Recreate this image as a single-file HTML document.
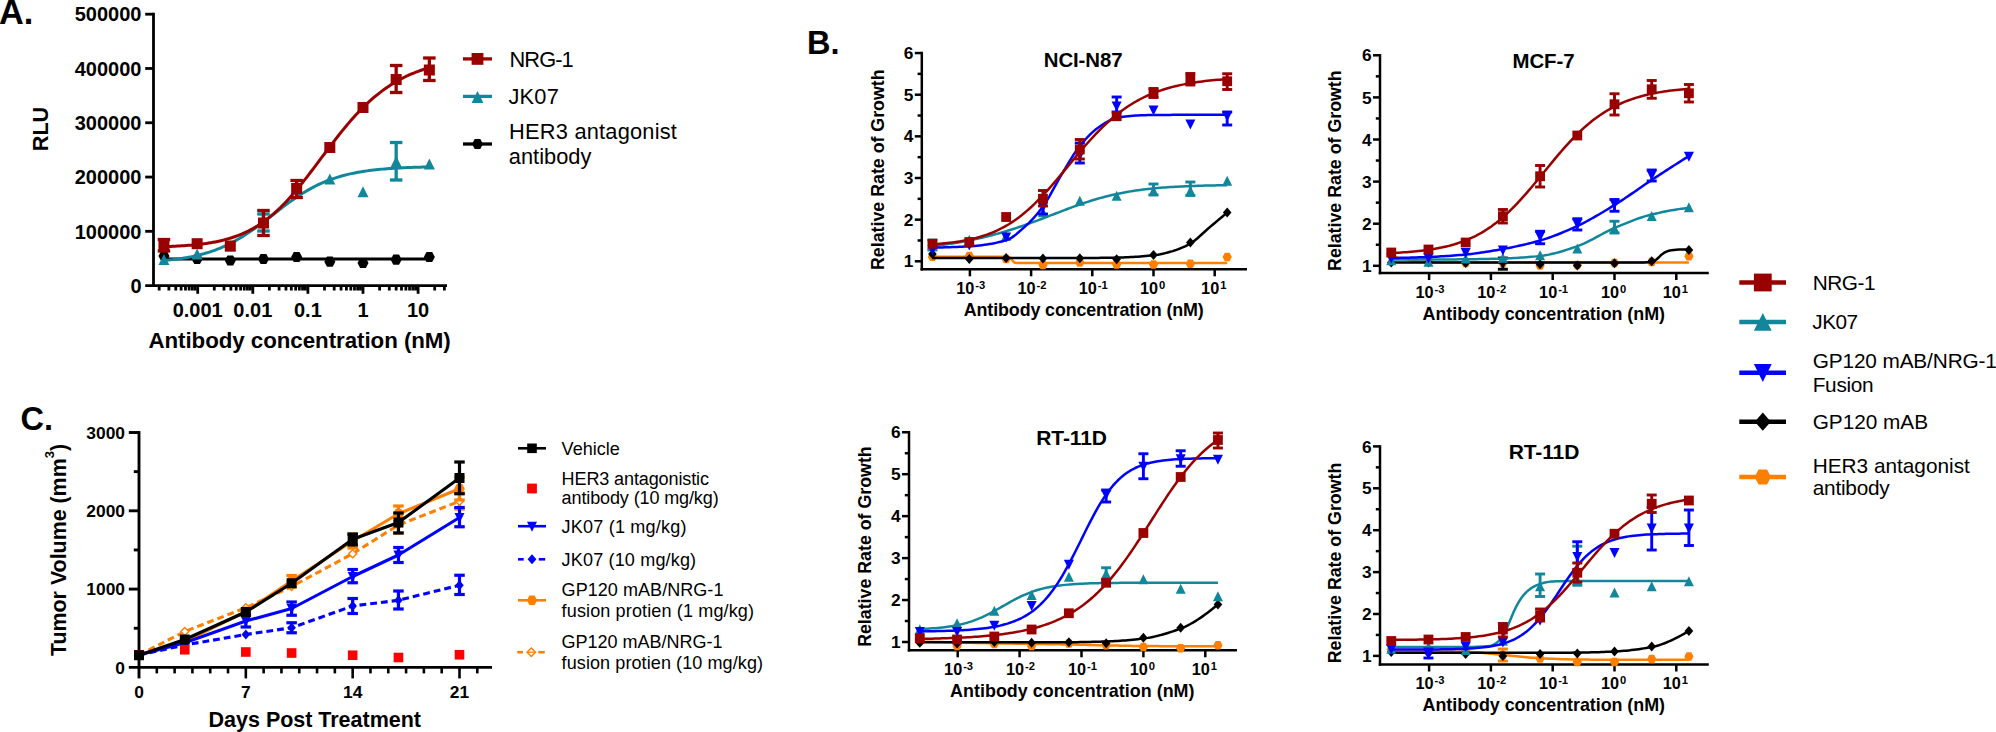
<!DOCTYPE html>
<html><head><meta charset="utf-8"><title>Figure</title>
<style>html,body{margin:0;padding:0;background:#fff;}svg{display:block;}text{font-family:"Liberation Sans",Arial,Helvetica,sans-serif;fill:#000;}</style>
</head><body>
<svg width="1996" height="732" viewBox="0 0 1996 732">
<rect width="1996" height="732" fill="#ffffff"/>
<line x1="153.5" y1="12.8" x2="153.5" y2="287" stroke="#000000" stroke-width="2.8" stroke-linecap="butt"/>
<line x1="145.2" y1="285.6" x2="447" y2="285.6" stroke="#000000" stroke-width="2.8" stroke-linecap="butt"/>
<line x1="145.2" y1="231.32" x2="153.5" y2="231.32" stroke="#000000" stroke-width="2.8" stroke-linecap="butt"/>
<line x1="145.2" y1="177.04" x2="153.5" y2="177.04" stroke="#000000" stroke-width="2.8" stroke-linecap="butt"/>
<line x1="145.2" y1="122.76" x2="153.5" y2="122.76" stroke="#000000" stroke-width="2.8" stroke-linecap="butt"/>
<line x1="145.2" y1="68.48" x2="153.5" y2="68.48" stroke="#000000" stroke-width="2.8" stroke-linecap="butt"/>
<line x1="145.2" y1="14.2" x2="153.5" y2="14.2" stroke="#000000" stroke-width="2.8" stroke-linecap="butt"/>
<text x="141.5" y="292.8" font-size="20" font-weight="bold" text-anchor="end">0</text>
<text x="141.5" y="238.52" font-size="20" font-weight="bold" text-anchor="end">100000</text>
<text x="141.5" y="184.24" font-size="20" font-weight="bold" text-anchor="end">200000</text>
<text x="141.5" y="129.96" font-size="20" font-weight="bold" text-anchor="end">300000</text>
<text x="141.5" y="75.68" font-size="20" font-weight="bold" text-anchor="end">400000</text>
<text x="141.5" y="21.4" font-size="20" font-weight="bold" text-anchor="end">500000</text>
<line x1="159.19" y1="285.6" x2="159.19" y2="290.5" stroke="#000000" stroke-width="2.8" stroke-linecap="butt"/>
<line x1="168.89" y1="285.6" x2="168.89" y2="290.5" stroke="#000000" stroke-width="2.8" stroke-linecap="butt"/>
<line x1="175.77" y1="285.6" x2="175.77" y2="290.5" stroke="#000000" stroke-width="2.8" stroke-linecap="butt"/>
<line x1="181.11" y1="285.6" x2="181.11" y2="290.5" stroke="#000000" stroke-width="2.8" stroke-linecap="butt"/>
<line x1="185.48" y1="285.6" x2="185.48" y2="290.5" stroke="#000000" stroke-width="2.8" stroke-linecap="butt"/>
<line x1="189.16" y1="285.6" x2="189.16" y2="290.5" stroke="#000000" stroke-width="2.8" stroke-linecap="butt"/>
<line x1="192.36" y1="285.6" x2="192.36" y2="290.5" stroke="#000000" stroke-width="2.8" stroke-linecap="butt"/>
<line x1="195.18" y1="285.6" x2="195.18" y2="290.5" stroke="#000000" stroke-width="2.8" stroke-linecap="butt"/>
<line x1="197.7" y1="285.6" x2="197.7" y2="293.8" stroke="#000000" stroke-width="2.8" stroke-linecap="butt"/>
<line x1="214.29" y1="285.6" x2="214.29" y2="290.5" stroke="#000000" stroke-width="2.8" stroke-linecap="butt"/>
<line x1="223.99" y1="285.6" x2="223.99" y2="290.5" stroke="#000000" stroke-width="2.8" stroke-linecap="butt"/>
<line x1="230.87" y1="285.6" x2="230.87" y2="290.5" stroke="#000000" stroke-width="2.8" stroke-linecap="butt"/>
<line x1="236.21" y1="285.6" x2="236.21" y2="290.5" stroke="#000000" stroke-width="2.8" stroke-linecap="butt"/>
<line x1="240.58" y1="285.6" x2="240.58" y2="290.5" stroke="#000000" stroke-width="2.8" stroke-linecap="butt"/>
<line x1="244.26" y1="285.6" x2="244.26" y2="290.5" stroke="#000000" stroke-width="2.8" stroke-linecap="butt"/>
<line x1="247.46" y1="285.6" x2="247.46" y2="290.5" stroke="#000000" stroke-width="2.8" stroke-linecap="butt"/>
<line x1="250.28" y1="285.6" x2="250.28" y2="290.5" stroke="#000000" stroke-width="2.8" stroke-linecap="butt"/>
<line x1="252.8" y1="285.6" x2="252.8" y2="293.8" stroke="#000000" stroke-width="2.8" stroke-linecap="butt"/>
<line x1="269.39" y1="285.6" x2="269.39" y2="290.5" stroke="#000000" stroke-width="2.8" stroke-linecap="butt"/>
<line x1="279.09" y1="285.6" x2="279.09" y2="290.5" stroke="#000000" stroke-width="2.8" stroke-linecap="butt"/>
<line x1="285.97" y1="285.6" x2="285.97" y2="290.5" stroke="#000000" stroke-width="2.8" stroke-linecap="butt"/>
<line x1="291.31" y1="285.6" x2="291.31" y2="290.5" stroke="#000000" stroke-width="2.8" stroke-linecap="butt"/>
<line x1="295.68" y1="285.6" x2="295.68" y2="290.5" stroke="#000000" stroke-width="2.8" stroke-linecap="butt"/>
<line x1="299.36" y1="285.6" x2="299.36" y2="290.5" stroke="#000000" stroke-width="2.8" stroke-linecap="butt"/>
<line x1="302.56" y1="285.6" x2="302.56" y2="290.5" stroke="#000000" stroke-width="2.8" stroke-linecap="butt"/>
<line x1="305.38" y1="285.6" x2="305.38" y2="290.5" stroke="#000000" stroke-width="2.8" stroke-linecap="butt"/>
<line x1="307.9" y1="285.6" x2="307.9" y2="293.8" stroke="#000000" stroke-width="2.8" stroke-linecap="butt"/>
<line x1="324.49" y1="285.6" x2="324.49" y2="290.5" stroke="#000000" stroke-width="2.8" stroke-linecap="butt"/>
<line x1="334.19" y1="285.6" x2="334.19" y2="290.5" stroke="#000000" stroke-width="2.8" stroke-linecap="butt"/>
<line x1="341.07" y1="285.6" x2="341.07" y2="290.5" stroke="#000000" stroke-width="2.8" stroke-linecap="butt"/>
<line x1="346.41" y1="285.6" x2="346.41" y2="290.5" stroke="#000000" stroke-width="2.8" stroke-linecap="butt"/>
<line x1="350.78" y1="285.6" x2="350.78" y2="290.5" stroke="#000000" stroke-width="2.8" stroke-linecap="butt"/>
<line x1="354.46" y1="285.6" x2="354.46" y2="290.5" stroke="#000000" stroke-width="2.8" stroke-linecap="butt"/>
<line x1="357.66" y1="285.6" x2="357.66" y2="290.5" stroke="#000000" stroke-width="2.8" stroke-linecap="butt"/>
<line x1="360.48" y1="285.6" x2="360.48" y2="290.5" stroke="#000000" stroke-width="2.8" stroke-linecap="butt"/>
<line x1="363" y1="285.6" x2="363" y2="293.8" stroke="#000000" stroke-width="2.8" stroke-linecap="butt"/>
<line x1="379.59" y1="285.6" x2="379.59" y2="290.5" stroke="#000000" stroke-width="2.8" stroke-linecap="butt"/>
<line x1="389.29" y1="285.6" x2="389.29" y2="290.5" stroke="#000000" stroke-width="2.8" stroke-linecap="butt"/>
<line x1="396.17" y1="285.6" x2="396.17" y2="290.5" stroke="#000000" stroke-width="2.8" stroke-linecap="butt"/>
<line x1="401.51" y1="285.6" x2="401.51" y2="290.5" stroke="#000000" stroke-width="2.8" stroke-linecap="butt"/>
<line x1="405.88" y1="285.6" x2="405.88" y2="290.5" stroke="#000000" stroke-width="2.8" stroke-linecap="butt"/>
<line x1="409.56" y1="285.6" x2="409.56" y2="290.5" stroke="#000000" stroke-width="2.8" stroke-linecap="butt"/>
<line x1="412.76" y1="285.6" x2="412.76" y2="290.5" stroke="#000000" stroke-width="2.8" stroke-linecap="butt"/>
<line x1="415.58" y1="285.6" x2="415.58" y2="290.5" stroke="#000000" stroke-width="2.8" stroke-linecap="butt"/>
<line x1="418.1" y1="285.6" x2="418.1" y2="293.8" stroke="#000000" stroke-width="2.8" stroke-linecap="butt"/>
<line x1="434.69" y1="285.6" x2="434.69" y2="290.5" stroke="#000000" stroke-width="2.8" stroke-linecap="butt"/>
<line x1="444.39" y1="285.6" x2="444.39" y2="290.5" stroke="#000000" stroke-width="2.8" stroke-linecap="butt"/>
<text x="197.7" y="316.8" font-size="20" font-weight="bold" text-anchor="middle">0.001</text>
<text x="252.8" y="316.8" font-size="20" font-weight="bold" text-anchor="middle">0.01</text>
<text x="307.9" y="316.8" font-size="20" font-weight="bold" text-anchor="middle">0.1</text>
<text x="363" y="316.8" font-size="20" font-weight="bold" text-anchor="middle">1</text>
<text x="418.1" y="316.8" font-size="20" font-weight="bold" text-anchor="middle">10</text>
<text x="148.4" y="348" font-size="22.3" font-weight="bold" textLength="302.41" lengthAdjust="spacing">Antibody concentration (nM)</text>
<text x="47.8" y="129" font-size="21.6" font-weight="bold" text-anchor="middle" transform="rotate(-90 47.8 129)">RLU</text>
<text x="-1" y="24" font-size="34.3" font-weight="bold" text-anchor="start">A.</text>
<line x1="163.96" y1="259" x2="429.35" y2="259" stroke="#000000" stroke-width="3" stroke-linecap="butt"/>
<polygon points="423.84,257 426.48,251.9 432.21,251.9 434.86,257 432.21,262.1 426.48,262.1" fill="#000000"/>
<polygon points="390.66,259.7 393.31,254.6 399.04,254.6 401.69,259.7 399.04,264.8 393.31,264.8" fill="#000000"/>
<polygon points="357.49,263 360.13,257.9 365.87,257.9 368.51,263 365.87,268.1 360.13,268.1" fill="#000000"/>
<polygon points="324.31,261.7 326.96,256.6 332.69,256.6 335.34,261.7 332.69,266.8 326.96,266.8" fill="#000000"/>
<polygon points="291.14,257 293.79,251.9 299.52,251.9 302.16,257 299.52,262.1 293.79,262.1" fill="#000000"/>
<polygon points="257.97,259 260.61,253.9 266.35,253.9 268.99,259 266.35,264.1 260.61,264.1" fill="#000000"/>
<polygon points="224.79,260.5 227.44,255.4 233.17,255.4 235.82,260.5 233.17,265.6 227.44,265.6" fill="#000000"/>
<polygon points="191.62,259 194.27,253.9 200,253.9 202.64,259 200,264.1 194.27,264.1" fill="#000000"/>
<polygon points="158.45,256 161.09,250.9 166.83,250.9 169.47,256 166.83,261.1 161.09,261.1" fill="#000000"/>
<path d="M163.96 260.55 L166.19 260.34 L168.42 260.12 L170.65 259.88 L172.88 259.62 L175.11 259.35 L177.34 259.05 L179.57 258.74 L181.8 258.41 L184.03 258.05 L186.26 257.68 L188.49 257.27 L190.72 256.85 L192.95 256.39 L195.18 255.91 L197.41 255.4 L199.64 254.85 L201.87 254.27 L204.1 253.66 L206.33 253.02 L208.56 252.33 L210.79 251.61 L213.02 250.85 L215.25 250.05 L217.48 249.2 L219.71 248.31 L221.94 247.38 L224.17 246.4 L226.4 245.38 L228.63 244.31 L230.86 243.19 L233.09 242.02 L235.32 240.81 L237.55 239.55 L239.78 238.25 L242.01 236.9 L244.24 235.5 L246.47 234.07 L248.7 232.59 L250.93 231.07 L253.17 229.52 L255.4 227.93 L257.63 226.32 L259.86 224.67 L262.09 223.01 L264.32 221.32 L266.55 219.61 L268.78 217.9 L271.01 216.18 L273.24 214.45 L275.47 212.73 L277.7 211.01 L279.93 209.3 L282.16 207.6 L284.39 205.92 L286.62 204.27 L288.85 202.64 L291.08 201.04 L293.31 199.47 L295.54 197.93 L297.77 196.44 L300 194.98 L302.23 193.56 L304.46 192.19 L306.69 190.87 L308.92 189.58 L311.15 188.35 L313.38 187.16 L315.61 186.02 L317.84 184.93 L320.07 183.88 L322.3 182.88 L324.53 181.92 L326.76 181.01 L328.99 180.15 L331.22 179.33 L333.45 178.54 L335.68 177.8 L337.91 177.1 L340.14 176.44 L342.37 175.81 L344.6 175.21 L346.83 174.65 L349.06 174.13 L351.29 173.63 L353.52 173.16 L355.75 172.72 L357.98 172.31 L360.21 171.92 L362.44 171.55 L364.67 171.21 L366.9 170.89 L369.13 170.58 L371.36 170.3 L373.59 170.04 L375.82 169.79 L378.05 169.56 L380.28 169.34 L382.51 169.13 L384.74 168.94 L386.97 168.77 L389.2 168.6 L391.43 168.44 L393.66 168.3 L395.89 168.16 L398.12 168.04 L400.36 167.92 L402.59 167.81 L404.82 167.7 L407.05 167.61 L409.28 167.52 L411.51 167.43 L413.74 167.35 L415.97 167.28 L418.2 167.21 L420.43 167.15 L422.66 167.09 L424.89 167.03 L427.12 166.98 L429.35 166.94" fill="none" stroke="#12869b" stroke-width="3" stroke-linejoin="round"/>
<line x1="396.17" y1="142.5" x2="396.17" y2="180" stroke="#12869b" stroke-width="3.3" stroke-linecap="butt"/>
<line x1="389.92" y1="142.5" x2="402.42" y2="142.5" stroke="#12869b" stroke-width="3.3" stroke-linecap="butt"/>
<line x1="389.92" y1="180" x2="402.42" y2="180" stroke="#12869b" stroke-width="3.3" stroke-linecap="butt"/>
<line x1="263.48" y1="214" x2="263.48" y2="231" stroke="#12869b" stroke-width="3.3" stroke-linecap="butt"/>
<line x1="257.23" y1="214" x2="269.73" y2="214" stroke="#12869b" stroke-width="3.3" stroke-linecap="butt"/>
<line x1="257.23" y1="231" x2="269.73" y2="231" stroke="#12869b" stroke-width="3.3" stroke-linecap="butt"/>
<polygon points="423.85,169.5 434.85,169.5 429.35,158.5" fill="#12869b"/>
<polygon points="390.67,167 401.67,167 396.17,156" fill="#12869b"/>
<polygon points="357.5,197.2 368.5,197.2 363,186.2" fill="#12869b"/>
<polygon points="324.33,184.5 335.33,184.5 329.83,173.5" fill="#12869b"/>
<polygon points="291.15,194.5 302.15,194.5 296.65,183.5" fill="#12869b"/>
<polygon points="257.98,225.5 268.98,225.5 263.48,214.5" fill="#12869b"/>
<polygon points="224.81,251.5 235.81,251.5 230.31,240.5" fill="#12869b"/>
<polygon points="191.63,259.5 202.63,259.5 197.13,248.5" fill="#12869b"/>
<polygon points="158.46,265 169.46,265 163.96,254" fill="#12869b"/>
<path d="M163.96 246.66 L166.19 246.58 L168.42 246.5 L170.65 246.41 L172.88 246.31 L175.11 246.2 L177.34 246.09 L179.57 245.96 L181.8 245.83 L184.03 245.68 L186.26 245.52 L188.49 245.35 L190.72 245.17 L192.95 244.97 L195.18 244.75 L197.41 244.52 L199.64 244.27 L201.87 244 L204.1 243.71 L206.33 243.4 L208.56 243.06 L210.79 242.7 L213.02 242.31 L215.25 241.9 L217.48 241.45 L219.71 240.97 L221.94 240.45 L224.17 239.9 L226.4 239.31 L228.63 238.68 L230.86 238.01 L233.09 237.29 L235.32 236.52 L237.55 235.71 L239.78 234.84 L242.01 233.92 L244.24 232.94 L246.47 231.9 L248.7 230.8 L250.93 229.63 L253.17 228.4 L255.4 227.11 L257.63 225.74 L259.86 224.3 L262.09 222.79 L264.32 221.2 L266.55 219.54 L268.78 217.81 L271.01 215.99 L273.24 214.1 L275.47 212.13 L277.7 210.09 L279.93 207.97 L282.16 205.77 L284.39 203.5 L286.62 201.16 L288.85 198.75 L291.08 196.27 L293.31 193.73 L295.54 191.13 L297.77 188.46 L300 185.75 L302.23 182.99 L304.46 180.18 L306.69 177.33 L308.92 174.45 L311.15 171.53 L313.38 168.6 L315.61 165.64 L317.84 162.67 L320.07 159.69 L322.3 156.72 L324.53 153.74 L326.76 150.77 L328.99 147.82 L331.22 144.89 L333.45 141.97 L335.68 139.09 L337.91 136.25 L340.14 133.43 L342.37 130.67 L344.6 127.94 L346.83 125.27 L349.06 122.64 L351.29 120.07 L353.52 117.56 L355.75 115.1 L357.98 112.71 L360.21 110.38 L362.44 108.11 L364.67 105.91 L366.9 103.77 L369.13 101.69 L371.36 99.69 L373.59 97.74 L375.82 95.87 L378.05 94.05 L380.28 92.31 L382.51 90.62 L384.74 89 L386.97 87.44 L389.2 85.94 L391.43 84.5 L393.66 83.11 L395.89 81.79 L398.12 80.51 L400.36 79.3 L402.59 78.13 L404.82 77.01 L407.05 75.95 L409.28 74.93 L411.51 73.95 L413.74 73.02 L415.97 72.13 L418.2 71.28 L420.43 70.48 L422.66 69.71 L424.89 68.97 L427.12 68.27 L429.35 67.61" fill="none" stroke="#990000" stroke-width="3" stroke-linejoin="round"/>
<line x1="429.35" y1="58" x2="429.35" y2="80.5" stroke="#990000" stroke-width="3.3" stroke-linecap="butt"/>
<line x1="423.1" y1="58" x2="435.6" y2="58" stroke="#990000" stroke-width="3.3" stroke-linecap="butt"/>
<line x1="423.1" y1="80.5" x2="435.6" y2="80.5" stroke="#990000" stroke-width="3.3" stroke-linecap="butt"/>
<line x1="396.17" y1="65.5" x2="396.17" y2="92.5" stroke="#990000" stroke-width="3.3" stroke-linecap="butt"/>
<line x1="389.92" y1="65.5" x2="402.42" y2="65.5" stroke="#990000" stroke-width="3.3" stroke-linecap="butt"/>
<line x1="389.92" y1="92.5" x2="402.42" y2="92.5" stroke="#990000" stroke-width="3.3" stroke-linecap="butt"/>
<line x1="263.48" y1="210.5" x2="263.48" y2="235.5" stroke="#990000" stroke-width="3.3" stroke-linecap="butt"/>
<line x1="257.23" y1="210.5" x2="269.73" y2="210.5" stroke="#990000" stroke-width="3.3" stroke-linecap="butt"/>
<line x1="257.23" y1="235.5" x2="269.73" y2="235.5" stroke="#990000" stroke-width="3.3" stroke-linecap="butt"/>
<line x1="296.65" y1="180.5" x2="296.65" y2="197.5" stroke="#990000" stroke-width="3.3" stroke-linecap="butt"/>
<line x1="290.4" y1="180.5" x2="302.9" y2="180.5" stroke="#990000" stroke-width="3.3" stroke-linecap="butt"/>
<line x1="290.4" y1="197.5" x2="302.9" y2="197.5" stroke="#990000" stroke-width="3.3" stroke-linecap="butt"/>
<line x1="163.96" y1="239.5" x2="163.96" y2="251" stroke="#990000" stroke-width="3.3" stroke-linecap="butt"/>
<line x1="157.71" y1="239.5" x2="170.21" y2="239.5" stroke="#990000" stroke-width="3.3" stroke-linecap="butt"/>
<line x1="157.71" y1="251" x2="170.21" y2="251" stroke="#990000" stroke-width="3.3" stroke-linecap="butt"/>
<rect x="423.85" y="64.5" width="11" height="11" fill="#990000"/>
<rect x="390.67" y="74" width="11" height="11" fill="#990000"/>
<rect x="357.5" y="102" width="11" height="11" fill="#990000"/>
<rect x="324.33" y="142" width="11" height="11" fill="#990000"/>
<rect x="291.15" y="183" width="11" height="11" fill="#990000"/>
<rect x="257.98" y="217.5" width="11" height="11" fill="#990000"/>
<rect x="224.81" y="240.5" width="11" height="11" fill="#990000"/>
<rect x="191.63" y="238.2" width="11" height="11" fill="#990000"/>
<rect x="158.46" y="239.5" width="11" height="11" fill="#990000"/>
<line x1="463" y1="58.9" x2="492" y2="58.9" stroke="#990000" stroke-width="3.3" stroke-linecap="butt"/>
<rect x="471.6" y="53" width="11.8" height="11.8" fill="#990000"/>
<line x1="463" y1="96.4" x2="492" y2="96.4" stroke="#12869b" stroke-width="3.3" stroke-linecap="butt"/>
<polygon points="471.6,102.9 483.4,102.9 477.5,91.1" fill="#12869b"/>
<line x1="463" y1="144" x2="492" y2="144" stroke="#000000" stroke-width="3.3" stroke-linecap="butt"/>
<polygon points="472.09,144 474.69,139 480.31,139 482.91,144 480.31,149 474.69,149" fill="#000000"/>
<text x="509.5" y="67.1" font-size="21.8" textLength="64.23" lengthAdjust="spacing">NRG-1</text>
<text x="508.5" y="104.1" font-size="21.8" textLength="50.29" lengthAdjust="spacing">JK07</text>
<text x="509.1" y="139" font-size="21.8" textLength="167.81" lengthAdjust="spacing">HER3 antagonist</text>
<text x="508.8" y="164.1" font-size="21.8" textLength="82.62" lengthAdjust="spacing">antibody</text>
<line x1="139" y1="431.05" x2="139" y2="678.4" stroke="#000000" stroke-width="2.9" stroke-linecap="butt"/>
<line x1="128.8" y1="667.4" x2="492" y2="667.4" stroke="#000000" stroke-width="2.9" stroke-linecap="butt"/>
<line x1="133.8" y1="628.25" x2="139" y2="628.25" stroke="#000000" stroke-width="2.9" stroke-linecap="butt"/>
<line x1="128.8" y1="589.1" x2="139" y2="589.1" stroke="#000000" stroke-width="2.9" stroke-linecap="butt"/>
<line x1="133.8" y1="549.95" x2="139" y2="549.95" stroke="#000000" stroke-width="2.9" stroke-linecap="butt"/>
<line x1="128.8" y1="510.8" x2="139" y2="510.8" stroke="#000000" stroke-width="2.9" stroke-linecap="butt"/>
<line x1="133.8" y1="471.65" x2="139" y2="471.65" stroke="#000000" stroke-width="2.9" stroke-linecap="butt"/>
<line x1="128.8" y1="432.5" x2="139" y2="432.5" stroke="#000000" stroke-width="2.9" stroke-linecap="butt"/>
<text x="125" y="673.6" font-size="17.4" font-weight="bold" text-anchor="end">0</text>
<text x="125" y="595.3" font-size="17.4" font-weight="bold" text-anchor="end">1000</text>
<text x="125" y="517" font-size="17.4" font-weight="bold" text-anchor="end">2000</text>
<text x="125" y="438.7" font-size="17.4" font-weight="bold" text-anchor="end">3000</text>
<line x1="156.81" y1="667.4" x2="156.81" y2="673.4" stroke="#000000" stroke-width="2.6" stroke-linecap="butt"/>
<line x1="174.61" y1="667.4" x2="174.61" y2="673.4" stroke="#000000" stroke-width="2.6" stroke-linecap="butt"/>
<line x1="192.42" y1="667.4" x2="192.42" y2="673.4" stroke="#000000" stroke-width="2.6" stroke-linecap="butt"/>
<line x1="210.22" y1="667.4" x2="210.22" y2="673.4" stroke="#000000" stroke-width="2.6" stroke-linecap="butt"/>
<line x1="228.03" y1="667.4" x2="228.03" y2="673.4" stroke="#000000" stroke-width="2.6" stroke-linecap="butt"/>
<line x1="245.83" y1="667.4" x2="245.83" y2="678.4" stroke="#000000" stroke-width="2.6" stroke-linecap="butt"/>
<line x1="263.64" y1="667.4" x2="263.64" y2="673.4" stroke="#000000" stroke-width="2.6" stroke-linecap="butt"/>
<line x1="281.45" y1="667.4" x2="281.45" y2="673.4" stroke="#000000" stroke-width="2.6" stroke-linecap="butt"/>
<line x1="299.25" y1="667.4" x2="299.25" y2="673.4" stroke="#000000" stroke-width="2.6" stroke-linecap="butt"/>
<line x1="317.06" y1="667.4" x2="317.06" y2="673.4" stroke="#000000" stroke-width="2.6" stroke-linecap="butt"/>
<line x1="334.86" y1="667.4" x2="334.86" y2="673.4" stroke="#000000" stroke-width="2.6" stroke-linecap="butt"/>
<line x1="352.67" y1="667.4" x2="352.67" y2="678.4" stroke="#000000" stroke-width="2.6" stroke-linecap="butt"/>
<line x1="370.47" y1="667.4" x2="370.47" y2="673.4" stroke="#000000" stroke-width="2.6" stroke-linecap="butt"/>
<line x1="388.28" y1="667.4" x2="388.28" y2="673.4" stroke="#000000" stroke-width="2.6" stroke-linecap="butt"/>
<line x1="406.09" y1="667.4" x2="406.09" y2="673.4" stroke="#000000" stroke-width="2.6" stroke-linecap="butt"/>
<line x1="423.89" y1="667.4" x2="423.89" y2="673.4" stroke="#000000" stroke-width="2.6" stroke-linecap="butt"/>
<line x1="441.7" y1="667.4" x2="441.7" y2="673.4" stroke="#000000" stroke-width="2.6" stroke-linecap="butt"/>
<line x1="459.5" y1="667.4" x2="459.5" y2="678.4" stroke="#000000" stroke-width="2.6" stroke-linecap="butt"/>
<line x1="477.31" y1="667.4" x2="477.31" y2="673.4" stroke="#000000" stroke-width="2.6" stroke-linecap="butt"/>
<text x="139" y="698.3" font-size="17.4" font-weight="bold" text-anchor="middle">0</text>
<text x="245.83" y="698.3" font-size="17.4" font-weight="bold" text-anchor="middle">7</text>
<text x="352.67" y="698.3" font-size="17.4" font-weight="bold" text-anchor="middle">14</text>
<text x="459.5" y="698.3" font-size="17.4" font-weight="bold" text-anchor="middle">21</text>
<text x="208.6" y="726.6" font-size="21.5" font-weight="bold" textLength="212.35" lengthAdjust="spacing">Days Post Treatment</text>
<text x="65.5" y="550" font-size="21.4" font-weight="bold" text-anchor="middle" transform="rotate(-90 65.5 550)">Tumor Volume (mm<tspan font-size="13" dy="-11.5">3</tspan><tspan dy="11.5">)</tspan></text>
<text x="20.5" y="429.5" font-size="32.5" font-weight="bold" text-anchor="start">C.</text>
<path d="M139 655 L184.79 631.5 L245.83 607.75 L291.62 586.5 L352.67 553.75 L398.45 525 L459.5 501.25" fill="none" stroke="#ff8000" stroke-width="3.1" stroke-linejoin="round" stroke-dasharray="6.8 4"/>
<line x1="398.45" y1="517" x2="398.45" y2="533" stroke="#ff8000" stroke-width="3.2" stroke-linecap="butt"/>
<line x1="393.2" y1="517" x2="403.7" y2="517" stroke="#ff8000" stroke-width="3.2" stroke-linecap="butt"/>
<line x1="393.2" y1="533" x2="403.7" y2="533" stroke="#ff8000" stroke-width="3.2" stroke-linecap="butt"/>
<line x1="459.5" y1="493" x2="459.5" y2="509" stroke="#ff8000" stroke-width="3.2" stroke-linecap="butt"/>
<line x1="454.25" y1="493" x2="464.75" y2="493" stroke="#ff8000" stroke-width="3.2" stroke-linecap="butt"/>
<line x1="454.25" y1="509" x2="464.75" y2="509" stroke="#ff8000" stroke-width="3.2" stroke-linecap="butt"/>
<polygon points="134.95,655 139,650.95 143.05,655 139,659.05" fill="#ffffff" stroke="#ff8000" stroke-width="1.4"/>
<polygon points="180.74,631.5 184.79,627.45 188.84,631.5 184.79,635.55" fill="#ffffff" stroke="#ff8000" stroke-width="1.4"/>
<polygon points="241.78,607.75 245.83,603.7 249.88,607.75 245.83,611.8" fill="#ffffff" stroke="#ff8000" stroke-width="1.4"/>
<polygon points="287.57,586.5 291.62,582.45 295.67,586.5 291.62,590.55" fill="#ffffff" stroke="#ff8000" stroke-width="1.4"/>
<polygon points="348.62,553.75 352.67,549.7 356.72,553.75 352.67,557.8" fill="#ffffff" stroke="#ff8000" stroke-width="1.4"/>
<polygon points="394.4,525 398.45,520.95 402.5,525 398.45,529.05" fill="#ffffff" stroke="#ff8000" stroke-width="1.4"/>
<polygon points="455.45,501.25 459.5,497.2 463.55,501.25 459.5,505.3" fill="#ffffff" stroke="#ff8000" stroke-width="1.4"/>
<path d="M139 655 L184.79 641.5 L245.83 611.5 L291.62 581 L352.67 541 L398.45 513.75 L459.5 488.75" fill="none" stroke="#ff8000" stroke-width="3.1" stroke-linejoin="round"/>
<line x1="291.62" y1="575.5" x2="291.62" y2="587" stroke="#ff8000" stroke-width="3.2" stroke-linecap="butt"/>
<line x1="286.37" y1="575.5" x2="296.87" y2="575.5" stroke="#ff8000" stroke-width="3.2" stroke-linecap="butt"/>
<line x1="286.37" y1="587" x2="296.87" y2="587" stroke="#ff8000" stroke-width="3.2" stroke-linecap="butt"/>
<line x1="398.45" y1="506" x2="398.45" y2="521.5" stroke="#ff8000" stroke-width="3.2" stroke-linecap="butt"/>
<line x1="393.2" y1="506" x2="403.7" y2="506" stroke="#ff8000" stroke-width="3.2" stroke-linecap="butt"/>
<line x1="393.2" y1="521.5" x2="403.7" y2="521.5" stroke="#ff8000" stroke-width="3.2" stroke-linecap="butt"/>
<line x1="459.5" y1="477" x2="459.5" y2="500" stroke="#ff8000" stroke-width="3.2" stroke-linecap="butt"/>
<line x1="454.25" y1="477" x2="464.75" y2="477" stroke="#ff8000" stroke-width="3.2" stroke-linecap="butt"/>
<line x1="454.25" y1="500" x2="464.75" y2="500" stroke="#ff8000" stroke-width="3.2" stroke-linecap="butt"/>
<line x1="352.67" y1="534" x2="352.67" y2="548" stroke="#ff8000" stroke-width="3.2" stroke-linecap="butt"/>
<line x1="347.42" y1="534" x2="357.92" y2="534" stroke="#ff8000" stroke-width="3.2" stroke-linecap="butt"/>
<line x1="347.42" y1="548" x2="357.92" y2="548" stroke="#ff8000" stroke-width="3.2" stroke-linecap="butt"/>
<polygon points="133.7,655 136.24,650.1 141.76,650.1 144.3,655 141.76,659.9 136.24,659.9" fill="#ff8000"/>
<polygon points="179.49,641.5 182.03,636.6 187.54,636.6 190.09,641.5 187.54,646.4 182.03,646.4" fill="#ff8000"/>
<polygon points="240.53,611.5 243.08,606.6 248.59,606.6 251.13,611.5 248.59,616.4 243.08,616.4" fill="#ff8000"/>
<polygon points="286.32,581 288.86,576.1 294.38,576.1 296.92,581 294.38,585.9 288.86,585.9" fill="#ff8000"/>
<polygon points="347.37,541 349.91,536.1 355.42,536.1 357.97,541 355.42,545.9 349.91,545.9" fill="#ff8000"/>
<polygon points="393.15,513.75 395.7,508.85 401.21,508.85 403.75,513.75 401.21,518.65 395.7,518.65" fill="#ff8000"/>
<polygon points="454.2,488.75 456.75,483.85 462.26,483.85 464.8,488.75 462.26,493.65 456.75,493.65" fill="#ff8000"/>
<path d="M139 655 L184.79 645 L245.83 634.5 L291.62 627.75 L352.67 606 L398.45 600.25 L459.5 585.25" fill="none" stroke="#0000ff" stroke-width="3.1" stroke-linejoin="round" stroke-dasharray="6.8 4"/>
<line x1="291.62" y1="622.75" x2="291.62" y2="632.75" stroke="#0000ff" stroke-width="3.2" stroke-linecap="butt"/>
<line x1="286.37" y1="622.75" x2="296.87" y2="622.75" stroke="#0000ff" stroke-width="3.2" stroke-linecap="butt"/>
<line x1="286.37" y1="632.75" x2="296.87" y2="632.75" stroke="#0000ff" stroke-width="3.2" stroke-linecap="butt"/>
<line x1="352.67" y1="598.5" x2="352.67" y2="613.5" stroke="#0000ff" stroke-width="3.2" stroke-linecap="butt"/>
<line x1="347.42" y1="598.5" x2="357.92" y2="598.5" stroke="#0000ff" stroke-width="3.2" stroke-linecap="butt"/>
<line x1="347.42" y1="613.5" x2="357.92" y2="613.5" stroke="#0000ff" stroke-width="3.2" stroke-linecap="butt"/>
<line x1="398.45" y1="591" x2="398.45" y2="609" stroke="#0000ff" stroke-width="3.2" stroke-linecap="butt"/>
<line x1="393.2" y1="591" x2="403.7" y2="591" stroke="#0000ff" stroke-width="3.2" stroke-linecap="butt"/>
<line x1="393.2" y1="609" x2="403.7" y2="609" stroke="#0000ff" stroke-width="3.2" stroke-linecap="butt"/>
<line x1="459.5" y1="575.25" x2="459.5" y2="594.5" stroke="#0000ff" stroke-width="3.2" stroke-linecap="butt"/>
<line x1="454.25" y1="575.25" x2="464.75" y2="575.25" stroke="#0000ff" stroke-width="3.2" stroke-linecap="butt"/>
<line x1="454.25" y1="594.5" x2="464.75" y2="594.5" stroke="#0000ff" stroke-width="3.2" stroke-linecap="butt"/>
<polygon points="134.72,655 139,650.11 143.28,655 139,659.89" fill="#0000ff"/>
<polygon points="180.51,645 184.79,640.11 189.06,645 184.79,649.89" fill="#0000ff"/>
<polygon points="241.56,634.5 245.83,629.61 250.11,634.5 245.83,639.39" fill="#0000ff"/>
<polygon points="287.35,627.75 291.62,622.86 295.89,627.75 291.62,632.64" fill="#0000ff"/>
<polygon points="348.39,606 352.67,601.11 356.94,606 352.67,610.89" fill="#0000ff"/>
<polygon points="394.18,600.25 398.45,595.36 402.73,600.25 398.45,605.14" fill="#0000ff"/>
<polygon points="455.23,585.25 459.5,580.36 463.78,585.25 459.5,590.14" fill="#0000ff"/>
<path d="M139 655 L184.79 642.75 L245.83 621 L291.62 608.5 L352.67 576.5 L398.45 555 L459.5 517.5" fill="none" stroke="#0000ff" stroke-width="3.1" stroke-linejoin="round"/>
<line x1="245.83" y1="615" x2="245.83" y2="627" stroke="#0000ff" stroke-width="3.2" stroke-linecap="butt"/>
<line x1="240.58" y1="615" x2="251.08" y2="615" stroke="#0000ff" stroke-width="3.2" stroke-linecap="butt"/>
<line x1="240.58" y1="627" x2="251.08" y2="627" stroke="#0000ff" stroke-width="3.2" stroke-linecap="butt"/>
<line x1="291.62" y1="602" x2="291.62" y2="615.25" stroke="#0000ff" stroke-width="3.2" stroke-linecap="butt"/>
<line x1="286.37" y1="602" x2="296.87" y2="602" stroke="#0000ff" stroke-width="3.2" stroke-linecap="butt"/>
<line x1="286.37" y1="615.25" x2="296.87" y2="615.25" stroke="#0000ff" stroke-width="3.2" stroke-linecap="butt"/>
<line x1="352.67" y1="569.5" x2="352.67" y2="582.75" stroke="#0000ff" stroke-width="3.2" stroke-linecap="butt"/>
<line x1="347.42" y1="569.5" x2="357.92" y2="569.5" stroke="#0000ff" stroke-width="3.2" stroke-linecap="butt"/>
<line x1="347.42" y1="582.75" x2="357.92" y2="582.75" stroke="#0000ff" stroke-width="3.2" stroke-linecap="butt"/>
<line x1="398.45" y1="547.5" x2="398.45" y2="562.5" stroke="#0000ff" stroke-width="3.2" stroke-linecap="butt"/>
<line x1="393.2" y1="547.5" x2="403.7" y2="547.5" stroke="#0000ff" stroke-width="3.2" stroke-linecap="butt"/>
<line x1="393.2" y1="562.5" x2="403.7" y2="562.5" stroke="#0000ff" stroke-width="3.2" stroke-linecap="butt"/>
<line x1="459.5" y1="507.5" x2="459.5" y2="526.75" stroke="#0000ff" stroke-width="3.2" stroke-linecap="butt"/>
<line x1="454.25" y1="507.5" x2="464.75" y2="507.5" stroke="#0000ff" stroke-width="3.2" stroke-linecap="butt"/>
<line x1="454.25" y1="526.75" x2="464.75" y2="526.75" stroke="#0000ff" stroke-width="3.2" stroke-linecap="butt"/>
<polygon points="134,650.5 144,650.5 139,660.5" fill="#0000ff"/>
<polygon points="179.79,638.25 189.79,638.25 184.79,648.25" fill="#0000ff"/>
<polygon points="240.83,616.5 250.83,616.5 245.83,626.5" fill="#0000ff"/>
<polygon points="286.62,604 296.62,604 291.62,614" fill="#0000ff"/>
<polygon points="347.67,572 357.67,572 352.67,582" fill="#0000ff"/>
<polygon points="393.45,550.5 403.45,550.5 398.45,560.5" fill="#0000ff"/>
<polygon points="454.5,513 464.5,513 459.5,523" fill="#0000ff"/>
<rect x="134.2" y="650.2" width="9.6" height="9.6" fill="#ff0000"/>
<rect x="179.99" y="644.95" width="9.6" height="9.6" fill="#ff0000"/>
<rect x="241.03" y="647.2" width="9.6" height="9.6" fill="#ff0000"/>
<rect x="286.82" y="648.2" width="9.6" height="9.6" fill="#ff0000"/>
<rect x="347.87" y="650.45" width="9.6" height="9.6" fill="#ff0000"/>
<rect x="393.65" y="652.7" width="9.6" height="9.6" fill="#ff0000"/>
<rect x="454.7" y="649.95" width="9.6" height="9.6" fill="#ff0000"/>
<path d="M139 655.25 L184.79 639.5 L245.83 612 L291.62 583.25 L352.67 539.25 L398.45 522.5 L459.5 478" fill="none" stroke="#000000" stroke-width="3.1" stroke-linejoin="round"/>
<line x1="398.45" y1="513" x2="398.45" y2="533" stroke="#000000" stroke-width="3.2" stroke-linecap="butt"/>
<line x1="393.2" y1="513" x2="403.7" y2="513" stroke="#000000" stroke-width="3.2" stroke-linecap="butt"/>
<line x1="393.2" y1="533" x2="403.7" y2="533" stroke="#000000" stroke-width="3.2" stroke-linecap="butt"/>
<line x1="459.5" y1="462" x2="459.5" y2="493.75" stroke="#000000" stroke-width="3.2" stroke-linecap="butt"/>
<line x1="454.25" y1="462" x2="464.75" y2="462" stroke="#000000" stroke-width="3.2" stroke-linecap="butt"/>
<line x1="454.25" y1="493.75" x2="464.75" y2="493.75" stroke="#000000" stroke-width="3.2" stroke-linecap="butt"/>
<line x1="352.67" y1="534" x2="352.67" y2="545" stroke="#000000" stroke-width="3.2" stroke-linecap="butt"/>
<line x1="347.42" y1="534" x2="357.92" y2="534" stroke="#000000" stroke-width="3.2" stroke-linecap="butt"/>
<line x1="347.42" y1="545" x2="357.92" y2="545" stroke="#000000" stroke-width="3.2" stroke-linecap="butt"/>
<rect x="134" y="650.25" width="10" height="10" fill="#000000"/>
<rect x="179.79" y="634.5" width="10" height="10" fill="#000000"/>
<rect x="240.83" y="607" width="10" height="10" fill="#000000"/>
<rect x="286.62" y="578.25" width="10" height="10" fill="#000000"/>
<rect x="347.67" y="534.25" width="10" height="10" fill="#000000"/>
<rect x="393.45" y="517.5" width="10" height="10" fill="#000000"/>
<rect x="454.5" y="473" width="10" height="10" fill="#000000"/>
<line x1="518" y1="448.3" x2="546" y2="448.3" stroke="#000000" stroke-width="2.6" stroke-linecap="butt"/>
<rect x="527.2" y="443.5" width="9.6" height="9.6" fill="#000000"/>
<text x="561.6" y="455.1" font-size="18.05" textLength="58.2" lengthAdjust="spacing">Vehicle</text>
<rect x="527.1" y="483.6" width="9.8" height="9.8" fill="#ff0000"/>
<text x="561.6" y="484.8" font-size="18.05" textLength="147.34" lengthAdjust="spacing">HER3 antagonistic</text>
<text x="561.6" y="503.5" font-size="18.05" textLength="157.07" lengthAdjust="spacing">antibody (10 mg/kg)</text>
<line x1="518" y1="526.2" x2="546" y2="526.2" stroke="#0000ff" stroke-width="2.6" stroke-linecap="butt"/>
<polygon points="527,521.7 537,521.7 532,531.7" fill="#0000ff"/>
<text x="561.6" y="532.5" font-size="18.05" textLength="124.81" lengthAdjust="spacing">JK07 (1 mg/kg)</text>
<line x1="518" y1="559.3" x2="523.7" y2="559.3" stroke="#0000ff" stroke-width="2.6" stroke-linecap="butt"/>
<line x1="538.8" y1="559.3" x2="545.2" y2="559.3" stroke="#0000ff" stroke-width="2.6" stroke-linecap="butt"/>
<polygon points="527.59,559.3 532,554.25 536.41,559.3 532,564.35" fill="#0000ff"/>
<text x="561.6" y="565.8" font-size="18.05" textLength="134.53" lengthAdjust="spacing">JK07 (10 mg/kg)</text>
<line x1="518" y1="600.3" x2="546" y2="600.3" stroke="#ff8000" stroke-width="2.6" stroke-linecap="butt"/>
<polygon points="526.91,600.3 529.35,595.6 534.65,595.6 537.09,600.3 534.65,605 529.35,605" fill="#ff8000"/>
<text x="561.6" y="595.7" font-size="18.05" textLength="161.85" lengthAdjust="spacing">GP120 mAB/NRG-1</text>
<text x="561.6" y="616.7" font-size="18.05" textLength="192.4" lengthAdjust="spacing">fusion protien (1 mg/kg)</text>
<line x1="517.3" y1="652.2" x2="523" y2="652.2" stroke="#ff8000" stroke-width="2.6" stroke-linecap="butt"/>
<line x1="538.3" y1="652.2" x2="544.8" y2="652.2" stroke="#ff8000" stroke-width="2.6" stroke-linecap="butt"/>
<polygon points="527,652.2 531.3,647.9 535.6,652.2 531.3,656.5" fill="#ffffff" stroke="#ff8000" stroke-width="1.4"/>
<line x1="527.5" y1="652.2" x2="535" y2="652.2" stroke="#ff8000" stroke-width="1.3" stroke-linecap="butt"/>
<text x="561.6" y="647.6" font-size="18.05" textLength="160.95" lengthAdjust="spacing">GP120 mAB/NRG-1</text>
<text x="561.6" y="668.8" font-size="18.05" textLength="201.42" lengthAdjust="spacing">fusion protien (10 mg/kg)</text>
<text x="807" y="53.8" font-size="32.5" font-weight="bold" text-anchor="start">B.</text>
<line x1="921.8" y1="51.8" x2="921.8" y2="270.55" stroke="#000000" stroke-width="2.5" stroke-linecap="butt"/>
<line x1="920.55" y1="269.3" x2="1247" y2="269.3" stroke="#000000" stroke-width="2.5" stroke-linecap="butt"/>
<line x1="914.8" y1="261.3" x2="921.8" y2="261.3" stroke="#000000" stroke-width="2.5" stroke-linecap="butt"/>
<text x="913.3" y="267.4" font-size="17.3" font-weight="bold" text-anchor="end">1</text>
<line x1="917.6" y1="240.48" x2="921.8" y2="240.48" stroke="#000000" stroke-width="2.5" stroke-linecap="butt"/>
<line x1="914.8" y1="219.65" x2="921.8" y2="219.65" stroke="#000000" stroke-width="2.5" stroke-linecap="butt"/>
<text x="913.3" y="225.75" font-size="17.3" font-weight="bold" text-anchor="end">2</text>
<line x1="917.6" y1="198.83" x2="921.8" y2="198.83" stroke="#000000" stroke-width="2.5" stroke-linecap="butt"/>
<line x1="914.8" y1="178" x2="921.8" y2="178" stroke="#000000" stroke-width="2.5" stroke-linecap="butt"/>
<text x="913.3" y="184.1" font-size="17.3" font-weight="bold" text-anchor="end">3</text>
<line x1="917.6" y1="157.18" x2="921.8" y2="157.18" stroke="#000000" stroke-width="2.5" stroke-linecap="butt"/>
<line x1="914.8" y1="136.35" x2="921.8" y2="136.35" stroke="#000000" stroke-width="2.5" stroke-linecap="butt"/>
<text x="913.3" y="142.45" font-size="17.3" font-weight="bold" text-anchor="end">4</text>
<line x1="917.6" y1="115.53" x2="921.8" y2="115.53" stroke="#000000" stroke-width="2.5" stroke-linecap="butt"/>
<line x1="914.8" y1="94.7" x2="921.8" y2="94.7" stroke="#000000" stroke-width="2.5" stroke-linecap="butt"/>
<text x="913.3" y="100.8" font-size="17.3" font-weight="bold" text-anchor="end">5</text>
<line x1="917.6" y1="73.88" x2="921.8" y2="73.88" stroke="#000000" stroke-width="2.5" stroke-linecap="butt"/>
<line x1="914.8" y1="53.05" x2="921.8" y2="53.05" stroke="#000000" stroke-width="2.5" stroke-linecap="butt"/>
<text x="913.3" y="59.15" font-size="17.3" font-weight="bold" text-anchor="end">6</text>
<line x1="969.9" y1="269.3" x2="969.9" y2="276.3" stroke="#000000" stroke-width="2.5" stroke-linecap="butt"/>
<text x="956.3" y="293.8" font-size="16.3" font-weight="bold">10<tspan font-size="11.2" dx="0.9" dy="-5">-3</tspan></text>
<line x1="1031.1" y1="269.3" x2="1031.1" y2="276.3" stroke="#000000" stroke-width="2.5" stroke-linecap="butt"/>
<text x="1017.5" y="293.8" font-size="16.3" font-weight="bold">10<tspan font-size="11.2" dx="0.9" dy="-5">-2</tspan></text>
<line x1="1092.3" y1="269.3" x2="1092.3" y2="276.3" stroke="#000000" stroke-width="2.5" stroke-linecap="butt"/>
<text x="1078.7" y="293.8" font-size="16.3" font-weight="bold">10<tspan font-size="11.2" dx="0.9" dy="-5">-1</tspan></text>
<line x1="1153.5" y1="269.3" x2="1153.5" y2="276.3" stroke="#000000" stroke-width="2.5" stroke-linecap="butt"/>
<text x="1139.9" y="293.8" font-size="16.3" font-weight="bold">10<tspan font-size="11.2" dx="0.9" dy="-5">0</tspan></text>
<line x1="1214.7" y1="269.3" x2="1214.7" y2="276.3" stroke="#000000" stroke-width="2.5" stroke-linecap="butt"/>
<text x="1201.1" y="293.8" font-size="16.3" font-weight="bold">10<tspan font-size="11.2" dx="0.9" dy="-5">1</tspan></text>
<text x="963.8" y="315.8" font-size="17.9" font-weight="bold" textLength="240.01" lengthAdjust="spacing">Antibody concentration (nM)</text>
<text x="1043.8" y="67" font-size="20.4" font-weight="bold" textLength="78.7" lengthAdjust="spacing">NCI-N87</text>
<text x="884.5" y="169.68" font-size="17.8" font-weight="bold" text-anchor="middle" transform="rotate(-90 884.5 169.68)">Relative Rate of Growth</text>
<path d="M932.42 256.75 L934.9 256.75 L937.38 256.75 L939.85 256.75 L942.33 256.75 L944.81 256.75 L947.29 256.75 L949.76 256.75 L952.24 256.75 L954.72 256.75 L957.19 256.75 L959.67 256.75 L962.15 256.75 L964.63 256.75 L967.1 256.75 L969.58 256.75 L972.06 256.75 L974.53 256.75 L977.01 256.75 L979.49 256.75 L981.96 256.75 L984.44 256.75 L986.92 256.75 L989.4 256.75 L991.87 256.75 L994.35 256.75 L996.83 256.75 L999.3 256.75 L1001.78 256.75 L1004.26 256.75 L1006.73 256.77 L1009.21 257.25 L1011.69 259.52 L1014.17 262.54 L1016.64 262.94 L1019.12 263 L1021.6 263 L1024.07 263 L1026.55 263 L1029.03 263 L1031.51 263 L1033.98 263 L1036.46 263 L1038.94 263 L1041.41 263 L1043.89 263 L1046.37 263 L1048.84 263 L1051.32 263 L1053.8 263 L1056.28 263 L1058.75 263 L1061.23 263 L1063.71 263 L1066.18 263 L1068.66 263 L1071.14 263 L1073.62 263 L1076.09 263 L1078.57 263 L1081.05 263 L1083.52 263 L1086 263 L1088.48 263 L1090.95 263 L1093.43 263 L1095.91 263 L1098.39 263 L1100.86 263 L1103.34 263 L1105.82 263 L1108.29 263 L1110.77 263 L1113.25 263 L1115.73 263 L1118.2 263 L1120.68 263 L1123.16 263 L1125.63 263 L1128.11 263 L1130.59 263 L1133.06 263 L1135.54 263 L1138.02 263 L1140.5 263 L1142.97 263 L1145.45 263 L1147.93 263 L1150.4 263 L1152.88 263 L1155.36 263 L1157.83 263 L1160.31 263 L1162.79 263 L1165.27 263 L1167.74 263 L1170.22 263 L1172.7 263 L1175.17 263 L1177.65 263 L1180.13 263 L1182.61 263 L1185.08 263 L1187.56 263 L1190.04 263 L1192.51 263 L1194.99 263 L1197.47 263 L1199.94 263 L1202.42 263 L1204.9 263 L1207.38 263 L1209.85 263 L1212.33 263 L1214.81 263 L1217.28 263 L1219.76 263 L1222.24 263 L1224.72 263 L1227.19 263" fill="none" stroke="#ff8000" stroke-width="2.5" stroke-linejoin="round"/>
<polygon points="1222.58,257 1224.79,252.74 1229.59,252.74 1231.8,257 1229.59,261.26 1224.79,261.26" fill="#ff8000"/>
<polygon points="1185.74,263.75 1187.95,259.49 1192.74,259.49 1194.96,263.75 1192.74,268.01 1187.95,268.01" fill="#ff8000"/>
<polygon points="1148.89,264.5 1151.1,260.24 1155.9,260.24 1158.11,264.5 1155.9,268.76 1151.1,268.76" fill="#ff8000"/>
<polygon points="1112.04,264.5 1114.26,260.24 1119.05,260.24 1121.26,264.5 1119.05,268.76 1114.26,268.76" fill="#ff8000"/>
<polygon points="1075.2,262.5 1077.41,258.24 1082.21,258.24 1084.42,262.5 1082.21,266.76 1077.41,266.76" fill="#ff8000"/>
<polygon points="1038.35,265 1040.56,260.74 1045.36,260.74 1047.57,265 1045.36,269.26 1040.56,269.26" fill="#ff8000"/>
<polygon points="1001.5,259 1003.72,254.74 1008.51,254.74 1010.73,259 1008.51,263.26 1003.72,263.26" fill="#ff8000"/>
<polygon points="964.66,256 966.87,251.74 971.67,251.74 973.88,256 971.67,260.26 966.87,260.26" fill="#ff8000"/>
<polygon points="927.81,256.75 930.03,252.49 934.82,252.49 937.03,256.75 934.82,261.01 930.03,261.01" fill="#ff8000"/>
<path d="M932.42 258 L934.9 258 L937.38 258 L939.85 258 L942.33 258 L944.81 258 L947.29 258 L949.76 258 L952.24 258 L954.72 258 L957.19 258 L959.67 258 L962.15 258 L964.63 258 L967.1 258 L969.58 258 L972.06 258 L974.53 258 L977.01 258 L979.49 258 L981.96 258 L984.44 258 L986.92 258 L989.4 258 L991.87 258 L994.35 258 L996.83 258 L999.3 258 L1001.78 258 L1004.26 258 L1006.73 258 L1009.21 258 L1011.69 258 L1014.17 258 L1016.64 258 L1019.12 258 L1021.6 258 L1024.07 258 L1026.55 258 L1029.03 258 L1031.51 258 L1033.98 258 L1036.46 258 L1038.94 258 L1041.41 258 L1043.89 258 L1046.37 258 L1048.84 258 L1051.32 258 L1053.8 258 L1056.28 258 L1058.75 258 L1061.23 258 L1063.71 258 L1066.18 258 L1068.66 258 L1071.14 258 L1073.62 258 L1076.09 258 L1078.57 258 L1081.05 258 L1083.52 257.99 L1086 257.99 L1088.48 257.97 L1090.95 257.96 L1093.43 257.94 L1095.91 257.91 L1098.39 257.88 L1100.86 257.85 L1103.34 257.82 L1105.82 257.78 L1108.29 257.74 L1110.77 257.7 L1113.25 257.66 L1115.73 257.62 L1118.2 257.57 L1120.68 257.5 L1123.16 257.43 L1125.63 257.33 L1128.11 257.22 L1130.59 257.1 L1133.06 256.96 L1135.54 256.81 L1138.02 256.64 L1140.5 256.46 L1142.97 256.27 L1145.45 256.06 L1147.93 255.84 L1150.4 255.61 L1152.88 255.36 L1155.36 255.08 L1157.83 254.7 L1160.31 254.25 L1162.79 253.72 L1165.27 253.12 L1167.74 252.48 L1170.22 251.8 L1172.7 251.1 L1175.17 250.31 L1177.65 249.44 L1180.13 248.47 L1182.61 247.41 L1185.08 246.26 L1187.56 245.01 L1190.04 243.67 L1192.51 242.15 L1194.99 240.32 L1197.47 238.26 L1199.94 236.05 L1202.42 233.76 L1204.9 231.46 L1207.38 229.23 L1209.85 227.11 L1212.33 225.03 L1214.81 222.94 L1217.28 220.86 L1219.76 218.77 L1222.24 216.68 L1224.72 214.59 L1227.19 212.5" fill="none" stroke="#000000" stroke-width="2.5" stroke-linejoin="round"/>
<polygon points="1222.87,212.5 1227.19,207.56 1231.51,212.5 1227.19,217.44" fill="#000000"/>
<polygon points="1186.03,242.5 1190.35,237.56 1194.67,242.5 1190.35,247.44" fill="#000000"/>
<polygon points="1149.18,255 1153.5,250.06 1157.82,255 1153.5,259.94" fill="#000000"/>
<polygon points="1112.33,259.25 1116.65,254.31 1120.97,259.25 1116.65,264.19" fill="#000000"/>
<polygon points="1075.49,258.25 1079.81,253.31 1084.13,258.25 1079.81,263.19" fill="#000000"/>
<polygon points="1038.64,258.5 1042.96,253.56 1047.28,258.5 1042.96,263.44" fill="#000000"/>
<polygon points="1001.8,258 1006.12,253.06 1010.44,258 1006.12,262.94" fill="#000000"/>
<polygon points="964.95,259 969.27,254.06 973.59,259 969.27,263.94" fill="#000000"/>
<polygon points="928.1,254 932.42,249.06 936.74,254 932.42,258.94" fill="#000000"/>
<path d="M932.42 246.27 L934.9 245.96 L937.38 245.64 L939.85 245.31 L942.33 244.97 L944.81 244.62 L947.29 244.26 L949.76 243.88 L952.24 243.49 L954.72 243.09 L957.19 242.67 L959.67 242.24 L962.15 241.79 L964.63 241.33 L967.1 240.86 L969.58 240.37 L972.06 239.87 L974.53 239.35 L977.01 238.81 L979.49 238.26 L981.96 237.69 L984.44 237.1 L986.92 236.5 L989.4 235.88 L991.87 235.24 L994.35 234.58 L996.83 233.91 L999.3 233.21 L1001.78 232.5 L1004.26 231.78 L1006.73 231.03 L1009.21 230.27 L1011.69 229.49 L1014.17 228.69 L1016.64 227.88 L1019.12 227.05 L1021.6 226.21 L1024.07 225.35 L1026.55 224.47 L1029.03 223.59 L1031.51 222.69 L1033.98 221.78 L1036.46 220.85 L1038.94 219.92 L1041.41 218.98 L1043.89 218.04 L1046.37 217.09 L1048.84 216.13 L1051.32 215.17 L1053.8 214.21 L1056.28 213.25 L1058.75 212.3 L1061.23 211.34 L1063.71 210.4 L1066.18 209.46 L1068.66 208.53 L1071.14 207.61 L1073.62 206.7 L1076.09 205.8 L1078.57 204.93 L1081.05 204.06 L1083.52 203.22 L1086 202.39 L1088.48 201.58 L1090.95 200.8 L1093.43 200.03 L1095.91 199.29 L1098.39 198.57 L1100.86 197.87 L1103.34 197.2 L1105.82 196.55 L1108.29 195.93 L1110.77 195.33 L1113.25 194.75 L1115.73 194.2 L1118.2 193.67 L1120.68 193.17 L1123.16 192.69 L1125.63 192.23 L1128.11 191.79 L1130.59 191.38 L1133.06 190.98 L1135.54 190.61 L1138.02 190.25 L1140.5 189.92 L1142.97 189.6 L1145.45 189.3 L1147.93 189.01 L1150.4 188.74 L1152.88 188.49 L1155.36 188.25 L1157.83 188.03 L1160.31 187.82 L1162.79 187.62 L1165.27 187.43 L1167.74 187.25 L1170.22 187.09 L1172.7 186.93 L1175.17 186.79 L1177.65 186.65 L1180.13 186.52 L1182.61 186.4 L1185.08 186.29 L1187.56 186.19 L1190.04 186.09 L1192.51 186 L1194.99 185.91 L1197.47 185.83 L1199.94 185.75 L1202.42 185.68 L1204.9 185.62 L1207.38 185.55 L1209.85 185.5 L1212.33 185.44 L1214.81 185.39 L1217.28 185.35 L1219.76 185.3 L1222.24 185.26 L1224.72 185.22 L1227.19 185.19" fill="none" stroke="#12869b" stroke-width="2.5" stroke-linejoin="round"/>
<line x1="1190.35" y1="182" x2="1190.35" y2="195.5" stroke="#12869b" stroke-width="2.9" stroke-linecap="butt"/>
<line x1="1185.35" y1="182" x2="1195.35" y2="182" stroke="#12869b" stroke-width="2.9" stroke-linecap="butt"/>
<line x1="1185.35" y1="195.5" x2="1195.35" y2="195.5" stroke="#12869b" stroke-width="2.9" stroke-linecap="butt"/>
<line x1="1153.5" y1="184" x2="1153.5" y2="195" stroke="#12869b" stroke-width="2.9" stroke-linecap="butt"/>
<line x1="1148.5" y1="184" x2="1158.5" y2="184" stroke="#12869b" stroke-width="2.9" stroke-linecap="butt"/>
<line x1="1148.5" y1="195" x2="1158.5" y2="195" stroke="#12869b" stroke-width="2.9" stroke-linecap="butt"/>
<line x1="932.42" y1="240" x2="932.42" y2="250" stroke="#12869b" stroke-width="2.9" stroke-linecap="butt"/>
<line x1="927.42" y1="240" x2="937.42" y2="240" stroke="#12869b" stroke-width="2.9" stroke-linecap="butt"/>
<line x1="927.42" y1="250" x2="937.42" y2="250" stroke="#12869b" stroke-width="2.9" stroke-linecap="butt"/>
<polygon points="1222.19,185.7 1232.19,185.7 1227.19,175.7" fill="#12869b"/>
<polygon points="1185.35,195.7 1195.35,195.7 1190.35,185.7" fill="#12869b"/>
<polygon points="1148.5,195.7 1158.5,195.7 1153.5,185.7" fill="#12869b"/>
<polygon points="1111.65,200.7 1121.65,200.7 1116.65,190.7" fill="#12869b"/>
<polygon points="1074.81,205.7 1084.81,205.7 1079.81,195.7" fill="#12869b"/>
<polygon points="1037.96,217.2 1047.96,217.2 1042.96,207.2" fill="#12869b"/>
<polygon points="1001.12,240.7 1011.12,240.7 1006.12,230.7" fill="#12869b"/>
<polygon points="964.27,244.7 974.27,244.7 969.27,234.7" fill="#12869b"/>
<polygon points="927.42,249.7 937.42,249.7 932.42,239.7" fill="#12869b"/>
<path d="M932.42 247.5 L934.9 247.49 L937.38 247.47 L939.85 247.44 L942.33 247.39 L944.81 247.33 L947.29 247.27 L949.76 247.19 L952.24 247.1 L954.72 247 L957.19 246.9 L959.67 246.79 L962.15 246.67 L964.63 246.54 L967.1 246.42 L969.58 246.28 L972.06 246.13 L974.53 245.94 L977.01 245.72 L979.49 245.47 L981.96 245.18 L984.44 244.85 L986.92 244.49 L989.4 244.09 L991.87 243.65 L994.35 243.16 L996.83 242.64 L999.3 242.08 L1001.78 241.47 L1004.26 240.82 L1006.73 240.11 L1009.21 239.06 L1011.69 237.63 L1014.17 235.89 L1016.64 233.92 L1019.12 231.79 L1021.6 229.58 L1024.07 227.37 L1026.55 225.15 L1029.03 222.78 L1031.51 220.25 L1033.98 217.56 L1036.46 214.72 L1038.94 211.72 L1041.41 208.56 L1043.89 205.21 L1046.37 201.44 L1048.84 197.29 L1051.32 192.89 L1053.8 188.35 L1056.28 183.79 L1058.75 179.34 L1061.23 175.11 L1063.71 171 L1066.18 166.83 L1068.66 162.66 L1071.14 158.58 L1073.62 154.66 L1076.09 150.96 L1078.57 147.56 L1081.05 144.5 L1083.52 141.57 L1086 138.77 L1088.48 136.11 L1090.95 133.63 L1093.43 131.34 L1095.91 129.28 L1098.39 127.47 L1100.86 125.79 L1103.34 124.16 L1105.82 122.63 L1108.29 121.23 L1110.77 120 L1113.25 118.98 L1115.73 118.22 L1118.2 117.69 L1120.68 117.23 L1123.16 116.82 L1125.63 116.47 L1128.11 116.16 L1130.59 115.91 L1133.06 115.72 L1135.54 115.57 L1138.02 115.45 L1140.5 115.34 L1142.97 115.25 L1145.45 115.16 L1147.93 115.1 L1150.4 115.04 L1152.88 115.01 L1155.36 114.98 L1157.83 114.96 L1160.31 114.94 L1162.79 114.92 L1165.27 114.91 L1167.74 114.89 L1170.22 114.88 L1172.7 114.87 L1175.17 114.86 L1177.65 114.85 L1180.13 114.84 L1182.61 114.83 L1185.08 114.82 L1187.56 114.81 L1190.04 114.8 L1192.51 114.79 L1194.99 114.78 L1197.47 114.77 L1199.94 114.77 L1202.42 114.76 L1204.9 114.75 L1207.38 114.74 L1209.85 114.74 L1212.33 114.73 L1214.81 114.72 L1217.28 114.72 L1219.76 114.71 L1222.24 114.71 L1224.72 114.7 L1227.19 114.7" fill="none" stroke="#0000ff" stroke-width="2.5" stroke-linejoin="round"/>
<line x1="1227.19" y1="112" x2="1227.19" y2="125" stroke="#0000ff" stroke-width="2.9" stroke-linecap="butt"/>
<line x1="1222.19" y1="112" x2="1232.19" y2="112" stroke="#0000ff" stroke-width="2.9" stroke-linecap="butt"/>
<line x1="1222.19" y1="125" x2="1232.19" y2="125" stroke="#0000ff" stroke-width="2.9" stroke-linecap="butt"/>
<line x1="1116.65" y1="97" x2="1116.65" y2="112" stroke="#0000ff" stroke-width="2.9" stroke-linecap="butt"/>
<line x1="1111.65" y1="97" x2="1121.65" y2="97" stroke="#0000ff" stroke-width="2.9" stroke-linecap="butt"/>
<line x1="1111.65" y1="112" x2="1121.65" y2="112" stroke="#0000ff" stroke-width="2.9" stroke-linecap="butt"/>
<line x1="1079.81" y1="143" x2="1079.81" y2="163" stroke="#0000ff" stroke-width="2.9" stroke-linecap="butt"/>
<line x1="1074.81" y1="143" x2="1084.81" y2="143" stroke="#0000ff" stroke-width="2.9" stroke-linecap="butt"/>
<line x1="1074.81" y1="163" x2="1084.81" y2="163" stroke="#0000ff" stroke-width="2.9" stroke-linecap="butt"/>
<line x1="1042.96" y1="200" x2="1042.96" y2="214" stroke="#0000ff" stroke-width="2.9" stroke-linecap="butt"/>
<line x1="1037.96" y1="200" x2="1047.96" y2="200" stroke="#0000ff" stroke-width="2.9" stroke-linecap="butt"/>
<line x1="1037.96" y1="214" x2="1047.96" y2="214" stroke="#0000ff" stroke-width="2.9" stroke-linecap="butt"/>
<polygon points="1222.19,111.5 1232.19,111.5 1227.19,121.5" fill="#0000ff"/>
<polygon points="1185.35,119.5 1195.35,119.5 1190.35,129.5" fill="#0000ff"/>
<polygon points="1148.5,105.5 1158.5,105.5 1153.5,115.5" fill="#0000ff"/>
<polygon points="1111.65,101.5 1121.65,101.5 1116.65,111.5" fill="#0000ff"/>
<polygon points="1074.81,150.5 1084.81,150.5 1079.81,160.5" fill="#0000ff"/>
<polygon points="1037.96,202.5 1047.96,202.5 1042.96,212.5" fill="#0000ff"/>
<polygon points="1001.12,232.5 1011.12,232.5 1006.12,242.5" fill="#0000ff"/>
<polygon points="964.27,240.5 974.27,240.5 969.27,250.5" fill="#0000ff"/>
<polygon points="927.42,245 937.42,245 932.42,255" fill="#0000ff"/>
<path d="M932.42 244.34 L934.9 244.17 L937.38 243.98 L939.85 243.78 L942.33 243.56 L944.81 243.33 L947.29 243.07 L949.76 242.79 L952.24 242.49 L954.72 242.16 L957.19 241.81 L959.67 241.43 L962.15 241.01 L964.63 240.57 L967.1 240.09 L969.58 239.57 L972.06 239.01 L974.53 238.41 L977.01 237.76 L979.49 237.07 L981.96 236.32 L984.44 235.52 L986.92 234.67 L989.4 233.75 L991.87 232.78 L994.35 231.74 L996.83 230.62 L999.3 229.44 L1001.78 228.19 L1004.26 226.86 L1006.73 225.45 L1009.21 223.96 L1011.69 222.39 L1014.17 220.73 L1016.64 218.99 L1019.12 217.16 L1021.6 215.25 L1024.07 213.25 L1026.55 211.16 L1029.03 208.99 L1031.51 206.73 L1033.98 204.39 L1036.46 201.97 L1038.94 199.47 L1041.41 196.91 L1043.89 194.27 L1046.37 191.57 L1048.84 188.81 L1051.32 185.99 L1053.8 183.13 L1056.28 180.23 L1058.75 177.29 L1061.23 174.33 L1063.71 171.34 L1066.18 168.35 L1068.66 165.35 L1071.14 162.35 L1073.62 159.36 L1076.09 156.38 L1078.57 153.43 L1081.05 150.51 L1083.52 147.62 L1086 144.78 L1088.48 141.98 L1090.95 139.23 L1093.43 136.55 L1095.91 133.92 L1098.39 131.36 L1100.86 128.86 L1103.34 126.44 L1105.82 124.08 L1108.29 121.8 L1110.77 119.6 L1113.25 117.47 L1115.73 115.42 L1118.2 113.45 L1120.68 111.55 L1123.16 109.73 L1125.63 107.99 L1128.11 106.31 L1130.59 104.72 L1133.06 103.19 L1135.54 101.73 L1138.02 100.34 L1140.5 99.02 L1142.97 97.76 L1145.45 96.56 L1147.93 95.42 L1150.4 94.35 L1152.88 93.32 L1155.36 92.35 L1157.83 91.43 L1160.31 90.56 L1162.79 89.74 L1165.27 88.96 L1167.74 88.22 L1170.22 87.53 L1172.7 86.87 L1175.17 86.25 L1177.65 85.67 L1180.13 85.12 L1182.61 84.6 L1185.08 84.11 L1187.56 83.64 L1190.04 83.21 L1192.51 82.8 L1194.99 82.42 L1197.47 82.05 L1199.94 81.71 L1202.42 81.39 L1204.9 81.09 L1207.38 80.81 L1209.85 80.54 L1212.33 80.29 L1214.81 80.06 L1217.28 79.84 L1219.76 79.63 L1222.24 79.43 L1224.72 79.25 L1227.19 79.08" fill="none" stroke="#990000" stroke-width="2.5" stroke-linejoin="round"/>
<line x1="1227.19" y1="73.75" x2="1227.19" y2="89.5" stroke="#990000" stroke-width="2.9" stroke-linecap="butt"/>
<line x1="1222.19" y1="73.75" x2="1232.19" y2="73.75" stroke="#990000" stroke-width="2.9" stroke-linecap="butt"/>
<line x1="1222.19" y1="89.5" x2="1232.19" y2="89.5" stroke="#990000" stroke-width="2.9" stroke-linecap="butt"/>
<line x1="1190.35" y1="73.5" x2="1190.35" y2="85" stroke="#990000" stroke-width="2.9" stroke-linecap="butt"/>
<line x1="1185.35" y1="73.5" x2="1195.35" y2="73.5" stroke="#990000" stroke-width="2.9" stroke-linecap="butt"/>
<line x1="1185.35" y1="85" x2="1195.35" y2="85" stroke="#990000" stroke-width="2.9" stroke-linecap="butt"/>
<line x1="1079.81" y1="139.5" x2="1079.81" y2="159" stroke="#990000" stroke-width="2.9" stroke-linecap="butt"/>
<line x1="1074.81" y1="139.5" x2="1084.81" y2="139.5" stroke="#990000" stroke-width="2.9" stroke-linecap="butt"/>
<line x1="1074.81" y1="159" x2="1084.81" y2="159" stroke="#990000" stroke-width="2.9" stroke-linecap="butt"/>
<line x1="1042.96" y1="190.5" x2="1042.96" y2="206" stroke="#990000" stroke-width="2.9" stroke-linecap="butt"/>
<line x1="1037.96" y1="190.5" x2="1047.96" y2="190.5" stroke="#990000" stroke-width="2.9" stroke-linecap="butt"/>
<line x1="1037.96" y1="206" x2="1047.96" y2="206" stroke="#990000" stroke-width="2.9" stroke-linecap="butt"/>
<line x1="1153.5" y1="88.5" x2="1153.5" y2="97.5" stroke="#990000" stroke-width="2.9" stroke-linecap="butt"/>
<line x1="1148.5" y1="88.5" x2="1158.5" y2="88.5" stroke="#990000" stroke-width="2.9" stroke-linecap="butt"/>
<line x1="1148.5" y1="97.5" x2="1158.5" y2="97.5" stroke="#990000" stroke-width="2.9" stroke-linecap="butt"/>
<rect x="1222.29" y="76.35" width="9.8" height="9.8" fill="#990000"/>
<rect x="1185.45" y="74.35" width="9.8" height="9.8" fill="#990000"/>
<rect x="1148.6" y="88.1" width="9.8" height="9.8" fill="#990000"/>
<rect x="1111.75" y="111.35" width="9.8" height="9.8" fill="#990000"/>
<rect x="1074.91" y="144.6" width="9.8" height="9.8" fill="#990000"/>
<rect x="1038.06" y="193.85" width="9.8" height="9.8" fill="#990000"/>
<rect x="1001.22" y="212.1" width="9.8" height="9.8" fill="#990000"/>
<rect x="964.37" y="237.1" width="9.8" height="9.8" fill="#990000"/>
<rect x="927.52" y="238.85" width="9.8" height="9.8" fill="#990000"/>
<line x1="1380" y1="54.05" x2="1380" y2="274.25" stroke="#000000" stroke-width="2.5" stroke-linecap="butt"/>
<line x1="1378.75" y1="273" x2="1708.8" y2="273" stroke="#000000" stroke-width="2.5" stroke-linecap="butt"/>
<line x1="1373" y1="265.8" x2="1380" y2="265.8" stroke="#000000" stroke-width="2.5" stroke-linecap="butt"/>
<text x="1371.5" y="271.9" font-size="17.3" font-weight="bold" text-anchor="end">1</text>
<line x1="1375.8" y1="244.75" x2="1380" y2="244.75" stroke="#000000" stroke-width="2.5" stroke-linecap="butt"/>
<line x1="1373" y1="223.7" x2="1380" y2="223.7" stroke="#000000" stroke-width="2.5" stroke-linecap="butt"/>
<text x="1371.5" y="229.8" font-size="17.3" font-weight="bold" text-anchor="end">2</text>
<line x1="1375.8" y1="202.65" x2="1380" y2="202.65" stroke="#000000" stroke-width="2.5" stroke-linecap="butt"/>
<line x1="1373" y1="181.6" x2="1380" y2="181.6" stroke="#000000" stroke-width="2.5" stroke-linecap="butt"/>
<text x="1371.5" y="187.7" font-size="17.3" font-weight="bold" text-anchor="end">3</text>
<line x1="1375.8" y1="160.55" x2="1380" y2="160.55" stroke="#000000" stroke-width="2.5" stroke-linecap="butt"/>
<line x1="1373" y1="139.5" x2="1380" y2="139.5" stroke="#000000" stroke-width="2.5" stroke-linecap="butt"/>
<text x="1371.5" y="145.6" font-size="17.3" font-weight="bold" text-anchor="end">4</text>
<line x1="1375.8" y1="118.45" x2="1380" y2="118.45" stroke="#000000" stroke-width="2.5" stroke-linecap="butt"/>
<line x1="1373" y1="97.4" x2="1380" y2="97.4" stroke="#000000" stroke-width="2.5" stroke-linecap="butt"/>
<text x="1371.5" y="103.5" font-size="17.3" font-weight="bold" text-anchor="end">5</text>
<line x1="1375.8" y1="76.35" x2="1380" y2="76.35" stroke="#000000" stroke-width="2.5" stroke-linecap="butt"/>
<line x1="1373" y1="55.3" x2="1380" y2="55.3" stroke="#000000" stroke-width="2.5" stroke-linecap="butt"/>
<text x="1371.5" y="61.4" font-size="17.3" font-weight="bold" text-anchor="end">6</text>
<line x1="1429.1" y1="273" x2="1429.1" y2="280" stroke="#000000" stroke-width="2.5" stroke-linecap="butt"/>
<text x="1415.5" y="297.5" font-size="16.3" font-weight="bold">10<tspan font-size="11.2" dx="0.9" dy="-5">-3</tspan></text>
<line x1="1490.9" y1="273" x2="1490.9" y2="280" stroke="#000000" stroke-width="2.5" stroke-linecap="butt"/>
<text x="1477.3" y="297.5" font-size="16.3" font-weight="bold">10<tspan font-size="11.2" dx="0.9" dy="-5">-2</tspan></text>
<line x1="1552.7" y1="273" x2="1552.7" y2="280" stroke="#000000" stroke-width="2.5" stroke-linecap="butt"/>
<text x="1539.1" y="297.5" font-size="16.3" font-weight="bold">10<tspan font-size="11.2" dx="0.9" dy="-5">-1</tspan></text>
<line x1="1614.5" y1="273" x2="1614.5" y2="280" stroke="#000000" stroke-width="2.5" stroke-linecap="butt"/>
<text x="1600.9" y="297.5" font-size="16.3" font-weight="bold">10<tspan font-size="11.2" dx="0.9" dy="-5">0</tspan></text>
<line x1="1676.3" y1="273" x2="1676.3" y2="280" stroke="#000000" stroke-width="2.5" stroke-linecap="butt"/>
<text x="1662.7" y="297.5" font-size="16.3" font-weight="bold">10<tspan font-size="11.2" dx="0.9" dy="-5">1</tspan></text>
<text x="1422.5" y="319.5" font-size="17.9" font-weight="bold" textLength="242.51" lengthAdjust="spacing">Antibody concentration (nM)</text>
<text x="1512.5" y="67.5" font-size="20.4" font-weight="bold" textLength="62.01" lengthAdjust="spacing">MCF-7</text>
<text x="1341.5" y="170.65" font-size="17.8" font-weight="bold" text-anchor="middle" transform="rotate(-90 1341.5 170.65)">Relative Rate of Growth</text>
<path d="M1391.26 256 L1393.76 256.6 L1396.26 257.18 L1398.76 257.73 L1401.26 258.26 L1403.76 258.76 L1406.26 259.24 L1408.77 259.73 L1411.27 260.2 L1413.77 260.65 L1416.27 261.04 L1418.77 261.37 L1421.27 261.62 L1423.77 261.86 L1426.27 262.08 L1428.78 262.27 L1431.28 262.41 L1433.78 262.49 L1436.28 262.5 L1438.78 262.5 L1441.28 262.5 L1443.78 262.5 L1446.29 262.5 L1448.79 262.5 L1451.29 262.5 L1453.79 262.5 L1456.29 262.5 L1458.79 262.5 L1461.29 262.5 L1463.79 262.5 L1466.3 262.5 L1468.8 262.5 L1471.3 262.5 L1473.8 262.5 L1476.3 262.5 L1478.8 262.5 L1481.3 262.5 L1483.81 262.5 L1486.31 262.5 L1488.81 262.5 L1491.31 262.5 L1493.81 262.5 L1496.31 262.5 L1498.81 262.5 L1501.31 262.5 L1503.82 262.5 L1506.32 262.5 L1508.82 262.5 L1511.32 262.5 L1513.82 262.5 L1516.32 262.5 L1518.82 262.5 L1521.33 262.5 L1523.83 262.5 L1526.33 262.5 L1528.83 262.5 L1531.33 262.5 L1533.83 262.5 L1536.33 262.5 L1538.83 262.5 L1541.34 262.5 L1543.84 262.5 L1546.34 262.5 L1548.84 262.5 L1551.34 262.5 L1553.84 262.5 L1556.34 262.5 L1558.85 262.5 L1561.35 262.5 L1563.85 262.5 L1566.35 262.5 L1568.85 262.5 L1571.35 262.5 L1573.85 262.5 L1576.35 262.5 L1578.86 262.5 L1581.36 262.5 L1583.86 262.5 L1586.36 262.5 L1588.86 262.5 L1591.36 262.5 L1593.86 262.5 L1596.37 262.5 L1598.87 262.5 L1601.37 262.5 L1603.87 262.5 L1606.37 262.5 L1608.87 262.5 L1611.37 262.5 L1613.87 262.5 L1616.38 262.5 L1618.88 262.5 L1621.38 262.5 L1623.88 262.5 L1626.38 262.5 L1628.88 262.5 L1631.38 262.5 L1633.89 262.5 L1636.39 262.5 L1638.89 262.5 L1641.39 262.5 L1643.89 262.5 L1646.39 262.5 L1648.89 262.5 L1651.39 262.5 L1653.9 262.5 L1656.4 262.5 L1658.9 262.5 L1661.4 262.5 L1663.9 262.5 L1666.4 262.5 L1668.9 262.5 L1671.41 262.5 L1673.91 262.5 L1676.41 262.5 L1678.91 262.5 L1681.41 262.5 L1683.91 262.5 L1686.41 262.5 L1688.91 262.5" fill="none" stroke="#ff8000" stroke-width="2.5" stroke-linejoin="round"/>
<polygon points="1684.3,256.25 1686.52,251.99 1691.31,251.99 1693.53,256.25 1691.31,260.51 1686.52,260.51" fill="#ff8000"/>
<polygon points="1647.1,262 1649.31,257.74 1654.11,257.74 1656.32,262 1654.11,266.26 1649.31,266.26" fill="#ff8000"/>
<polygon points="1609.89,263 1612.1,258.74 1616.9,258.74 1619.11,263 1616.9,267.26 1612.1,267.26" fill="#ff8000"/>
<polygon points="1572.68,265 1574.89,260.74 1579.69,260.74 1581.9,265 1579.69,269.26 1574.89,269.26" fill="#ff8000"/>
<polygon points="1535.47,265.5 1537.69,261.24 1542.48,261.24 1544.7,265.5 1542.48,269.76 1537.69,269.76" fill="#ff8000"/>
<polygon points="1498.27,263 1500.48,258.74 1505.28,258.74 1507.49,263 1505.28,267.26 1500.48,267.26" fill="#ff8000"/>
<polygon points="1461.06,263 1463.27,258.74 1468.07,258.74 1470.28,263 1468.07,267.26 1463.27,267.26" fill="#ff8000"/>
<polygon points="1423.85,260 1426.07,255.74 1430.86,255.74 1433.07,260 1430.86,264.26 1426.07,264.26" fill="#ff8000"/>
<polygon points="1386.65,256 1388.86,251.74 1393.65,251.74 1395.87,256 1393.65,260.26 1388.86,260.26" fill="#ff8000"/>
<path d="M1391.26 262.5 L1393.76 262.5 L1396.26 262.5 L1398.76 262.5 L1401.26 262.5 L1403.76 262.5 L1406.26 262.5 L1408.77 262.5 L1411.27 262.5 L1413.77 262.5 L1416.27 262.5 L1418.77 262.5 L1421.27 262.5 L1423.77 262.5 L1426.27 262.5 L1428.78 262.5 L1431.28 262.5 L1433.78 262.5 L1436.28 262.5 L1438.78 262.5 L1441.28 262.5 L1443.78 262.5 L1446.29 262.5 L1448.79 262.5 L1451.29 262.5 L1453.79 262.5 L1456.29 262.5 L1458.79 262.5 L1461.29 262.5 L1463.79 262.5 L1466.3 262.5 L1468.8 262.5 L1471.3 262.5 L1473.8 262.5 L1476.3 262.5 L1478.8 262.5 L1481.3 262.5 L1483.81 262.5 L1486.31 262.5 L1488.81 262.5 L1491.31 262.5 L1493.81 262.5 L1496.31 262.5 L1498.81 262.5 L1501.31 262.5 L1503.82 262.5 L1506.32 262.5 L1508.82 262.5 L1511.32 262.5 L1513.82 262.5 L1516.32 262.5 L1518.82 262.5 L1521.33 262.5 L1523.83 262.5 L1526.33 262.5 L1528.83 262.5 L1531.33 262.5 L1533.83 262.5 L1536.33 262.5 L1538.83 262.5 L1541.34 262.5 L1543.84 262.5 L1546.34 262.5 L1548.84 262.5 L1551.34 262.5 L1553.84 262.5 L1556.34 262.5 L1558.85 262.5 L1561.35 262.5 L1563.85 262.5 L1566.35 262.5 L1568.85 262.5 L1571.35 262.5 L1573.85 262.5 L1576.35 262.5 L1578.86 262.5 L1581.36 262.5 L1583.86 262.5 L1586.36 262.5 L1588.86 262.5 L1591.36 262.5 L1593.86 262.5 L1596.37 262.5 L1598.87 262.5 L1601.37 262.5 L1603.87 262.5 L1606.37 262.5 L1608.87 262.5 L1611.37 262.5 L1613.87 262.5 L1616.38 262.5 L1618.88 262.5 L1621.38 262.5 L1623.88 262.49 L1626.38 262.49 L1628.88 262.48 L1631.38 262.47 L1633.89 262.46 L1636.39 262.45 L1638.89 262.43 L1641.39 262.41 L1643.89 262.39 L1646.39 262.37 L1648.89 262.34 L1651.39 262.3 L1653.9 261.46 L1656.4 259.47 L1658.9 257.28 L1661.4 254.74 L1663.9 252.98 L1666.4 251.69 L1668.9 250.75 L1671.41 250.26 L1673.91 249.9 L1676.41 249.67 L1678.91 249.58 L1681.41 249.55 L1683.91 249.52 L1686.41 249.51 L1688.91 249.5" fill="none" stroke="#000000" stroke-width="2.5" stroke-linejoin="round"/>
<line x1="1502.88" y1="258" x2="1502.88" y2="269.25" stroke="#000000" stroke-width="2.9" stroke-linecap="butt"/>
<line x1="1497.88" y1="258" x2="1507.88" y2="258" stroke="#000000" stroke-width="2.9" stroke-linecap="butt"/>
<line x1="1497.88" y1="269.25" x2="1507.88" y2="269.25" stroke="#000000" stroke-width="2.9" stroke-linecap="butt"/>
<polygon points="1684.59,250 1688.91,245.06 1693.23,250 1688.91,254.94" fill="#000000"/>
<polygon points="1647.39,261.25 1651.71,256.31 1656.03,261.25 1651.71,266.19" fill="#000000"/>
<polygon points="1610.18,263.25 1614.5,258.31 1618.82,263.25 1614.5,268.19" fill="#000000"/>
<polygon points="1572.97,265.5 1577.29,260.56 1581.61,265.5 1577.29,270.44" fill="#000000"/>
<polygon points="1535.77,264.25 1540.09,259.31 1544.41,264.25 1540.09,269.19" fill="#000000"/>
<polygon points="1498.56,262.5 1502.88,257.56 1507.2,262.5 1502.88,267.44" fill="#000000"/>
<polygon points="1461.35,263 1465.67,258.06 1469.99,263 1465.67,267.94" fill="#000000"/>
<polygon points="1424.14,262.5 1428.46,257.56 1432.78,262.5 1428.46,267.44" fill="#000000"/>
<polygon points="1386.94,262.5 1391.26,257.56 1395.58,262.5 1391.26,267.44" fill="#000000"/>
<path d="M1391.26 259.5 L1393.76 259.5 L1396.26 259.5 L1398.76 259.5 L1401.26 259.5 L1403.76 259.5 L1406.26 259.5 L1408.77 259.5 L1411.27 259.5 L1413.77 259.5 L1416.27 259.5 L1418.77 259.5 L1421.27 259.5 L1423.77 259.5 L1426.27 259.5 L1428.78 259.5 L1431.28 259.5 L1433.78 259.49 L1436.28 259.49 L1438.78 259.48 L1441.28 259.47 L1443.78 259.46 L1446.29 259.44 L1448.79 259.43 L1451.29 259.41 L1453.79 259.4 L1456.29 259.38 L1458.79 259.36 L1461.29 259.34 L1463.79 259.32 L1466.3 259.29 L1468.8 259.27 L1471.3 259.24 L1473.8 259.2 L1476.3 259.17 L1478.8 259.12 L1481.3 259.07 L1483.81 259.02 L1486.31 258.97 L1488.81 258.91 L1491.31 258.84 L1493.81 258.77 L1496.31 258.7 L1498.81 258.63 L1501.31 258.55 L1503.82 258.47 L1506.32 258.38 L1508.82 258.28 L1511.32 258.17 L1513.82 258.04 L1516.32 257.91 L1518.82 257.76 L1521.33 257.61 L1523.83 257.44 L1526.33 257.25 L1528.83 257.06 L1531.33 256.85 L1533.83 256.62 L1536.33 256.38 L1538.83 256.13 L1541.34 255.86 L1543.84 255.51 L1546.34 255.1 L1548.84 254.63 L1551.34 254.09 L1553.84 253.5 L1556.34 252.86 L1558.85 252.17 L1561.35 251.45 L1563.85 250.69 L1566.35 249.9 L1568.85 249.09 L1571.35 248.26 L1573.85 247.42 L1576.35 246.57 L1578.86 245.69 L1581.36 244.71 L1583.86 243.62 L1586.36 242.45 L1588.86 241.21 L1591.36 239.92 L1593.86 238.58 L1596.37 237.22 L1598.87 235.85 L1601.37 234.48 L1603.87 233.14 L1606.37 231.83 L1608.87 230.57 L1611.37 229.38 L1613.87 228.26 L1616.38 227.22 L1618.88 226.17 L1621.38 225.12 L1623.88 224.09 L1626.38 223.06 L1628.88 222.05 L1631.38 221.07 L1633.89 220.11 L1636.39 219.18 L1638.89 218.29 L1641.39 217.45 L1643.89 216.65 L1646.39 215.9 L1648.89 215.2 L1651.39 214.57 L1653.9 213.99 L1656.4 213.41 L1658.9 212.85 L1661.4 212.31 L1663.9 211.78 L1666.4 211.27 L1668.9 210.79 L1671.41 210.33 L1673.91 209.9 L1676.41 209.5 L1678.91 209.12 L1681.41 208.79 L1683.91 208.49 L1686.41 208.22 L1688.91 208" fill="none" stroke="#12869b" stroke-width="2.5" stroke-linejoin="round"/>
<line x1="1614.5" y1="221.25" x2="1614.5" y2="233" stroke="#12869b" stroke-width="2.9" stroke-linecap="butt"/>
<line x1="1609.5" y1="221.25" x2="1619.5" y2="221.25" stroke="#12869b" stroke-width="2.9" stroke-linecap="butt"/>
<line x1="1609.5" y1="233" x2="1619.5" y2="233" stroke="#12869b" stroke-width="2.9" stroke-linecap="butt"/>
<polygon points="1683.91,212.2 1693.91,212.2 1688.91,202.2" fill="#12869b"/>
<polygon points="1646.71,220.95 1656.71,220.95 1651.71,210.95" fill="#12869b"/>
<polygon points="1609.5,233.45 1619.5,233.45 1614.5,223.45" fill="#12869b"/>
<polygon points="1572.29,253.45 1582.29,253.45 1577.29,243.45" fill="#12869b"/>
<polygon points="1535.09,260.2 1545.09,260.2 1540.09,250.2" fill="#12869b"/>
<polygon points="1497.88,262.7 1507.88,262.7 1502.88,252.7" fill="#12869b"/>
<polygon points="1460.67,263.45 1470.67,263.45 1465.67,253.45" fill="#12869b"/>
<polygon points="1423.46,266.7 1433.46,266.7 1428.46,256.7" fill="#12869b"/>
<polygon points="1386.26,265.2 1396.26,265.2 1391.26,255.2" fill="#12869b"/>
<path d="M1391.26 258 L1393.76 257.98 L1396.26 257.95 L1398.76 257.91 L1401.26 257.86 L1403.76 257.81 L1406.26 257.75 L1408.77 257.68 L1411.27 257.61 L1413.77 257.53 L1416.27 257.45 L1418.77 257.36 L1421.27 257.27 L1423.77 257.18 L1426.27 257.08 L1428.78 256.99 L1431.28 256.89 L1433.78 256.77 L1436.28 256.65 L1438.78 256.51 L1441.28 256.37 L1443.78 256.22 L1446.29 256.05 L1448.79 255.88 L1451.29 255.7 L1453.79 255.51 L1456.29 255.31 L1458.79 255.11 L1461.29 254.89 L1463.79 254.67 L1466.3 254.44 L1468.8 254.19 L1471.3 253.92 L1473.8 253.62 L1476.3 253.3 L1478.8 252.96 L1481.3 252.6 L1483.81 252.23 L1486.31 251.84 L1488.81 251.44 L1491.31 251.02 L1493.81 250.6 L1496.31 250.16 L1498.81 249.72 L1501.31 249.28 L1503.82 248.83 L1506.32 248.37 L1508.82 247.9 L1511.32 247.41 L1513.82 246.9 L1516.32 246.38 L1518.82 245.84 L1521.33 245.29 L1523.83 244.72 L1526.33 244.13 L1528.83 243.51 L1531.33 242.88 L1533.83 242.23 L1536.33 241.55 L1538.83 240.86 L1541.34 240.13 L1543.84 239.37 L1546.34 238.57 L1548.84 237.72 L1551.34 236.84 L1553.84 235.92 L1556.34 234.97 L1558.85 233.99 L1561.35 232.98 L1563.85 231.95 L1566.35 230.88 L1568.85 229.8 L1571.35 228.7 L1573.85 227.57 L1576.35 226.43 L1578.86 225.27 L1581.36 224.06 L1583.86 222.8 L1586.36 221.5 L1588.86 220.16 L1591.36 218.78 L1593.86 217.37 L1596.37 215.94 L1598.87 214.48 L1601.37 212.99 L1603.87 211.49 L1606.37 209.98 L1608.87 208.45 L1611.37 206.92 L1613.87 205.38 L1616.38 203.84 L1618.88 202.25 L1621.38 200.63 L1623.88 198.98 L1626.38 197.3 L1628.88 195.61 L1631.38 193.89 L1633.89 192.17 L1636.39 190.44 L1638.89 188.71 L1641.39 186.98 L1643.89 185.26 L1646.39 183.56 L1648.89 181.87 L1651.39 180.21 L1653.9 178.56 L1656.4 176.92 L1658.9 175.28 L1661.4 173.65 L1663.9 172.03 L1666.4 170.4 L1668.9 168.78 L1671.41 167.17 L1673.91 165.56 L1676.41 163.96 L1678.91 162.36 L1681.41 160.76 L1683.91 159.17 L1686.41 157.58 L1688.91 156" fill="none" stroke="#0000ff" stroke-width="2.5" stroke-linejoin="round"/>
<line x1="1651.71" y1="170" x2="1651.71" y2="181" stroke="#0000ff" stroke-width="2.9" stroke-linecap="butt"/>
<line x1="1646.71" y1="170" x2="1656.71" y2="170" stroke="#0000ff" stroke-width="2.9" stroke-linecap="butt"/>
<line x1="1646.71" y1="181" x2="1656.71" y2="181" stroke="#0000ff" stroke-width="2.9" stroke-linecap="butt"/>
<line x1="1614.5" y1="199.5" x2="1614.5" y2="211.25" stroke="#0000ff" stroke-width="2.9" stroke-linecap="butt"/>
<line x1="1609.5" y1="199.5" x2="1619.5" y2="199.5" stroke="#0000ff" stroke-width="2.9" stroke-linecap="butt"/>
<line x1="1609.5" y1="211.25" x2="1619.5" y2="211.25" stroke="#0000ff" stroke-width="2.9" stroke-linecap="butt"/>
<line x1="1577.29" y1="218.75" x2="1577.29" y2="230" stroke="#0000ff" stroke-width="2.9" stroke-linecap="butt"/>
<line x1="1572.29" y1="218.75" x2="1582.29" y2="218.75" stroke="#0000ff" stroke-width="2.9" stroke-linecap="butt"/>
<line x1="1572.29" y1="230" x2="1582.29" y2="230" stroke="#0000ff" stroke-width="2.9" stroke-linecap="butt"/>
<line x1="1540.09" y1="231.25" x2="1540.09" y2="243.75" stroke="#0000ff" stroke-width="2.9" stroke-linecap="butt"/>
<line x1="1535.09" y1="231.25" x2="1545.09" y2="231.25" stroke="#0000ff" stroke-width="2.9" stroke-linecap="butt"/>
<line x1="1535.09" y1="243.75" x2="1545.09" y2="243.75" stroke="#0000ff" stroke-width="2.9" stroke-linecap="butt"/>
<polygon points="1683.91,151.75 1693.91,151.75 1688.91,161.75" fill="#0000ff"/>
<polygon points="1646.71,170.5 1656.71,170.5 1651.71,180.5" fill="#0000ff"/>
<polygon points="1609.5,199.25 1619.5,199.25 1614.5,209.25" fill="#0000ff"/>
<polygon points="1572.29,219.25 1582.29,219.25 1577.29,229.25" fill="#0000ff"/>
<polygon points="1535.09,231.75 1545.09,231.75 1540.09,241.75" fill="#0000ff"/>
<polygon points="1497.88,245.5 1507.88,245.5 1502.88,255.5" fill="#0000ff"/>
<polygon points="1460.67,248 1470.67,248 1465.67,258" fill="#0000ff"/>
<polygon points="1423.46,253.5 1433.46,253.5 1428.46,263.5" fill="#0000ff"/>
<polygon points="1386.26,253.5 1396.26,253.5 1391.26,263.5" fill="#0000ff"/>
<path d="M1391.26 253.02 L1393.76 252.9 L1396.26 252.77 L1398.76 252.63 L1401.26 252.47 L1403.76 252.31 L1406.26 252.13 L1408.77 251.94 L1411.27 251.73 L1413.77 251.51 L1416.27 251.26 L1418.77 251 L1421.27 250.72 L1423.77 250.42 L1426.27 250.1 L1428.78 249.75 L1431.28 249.37 L1433.78 248.97 L1436.28 248.53 L1438.78 248.07 L1441.28 247.57 L1443.78 247.03 L1446.29 246.45 L1448.79 245.84 L1451.29 245.17 L1453.79 244.47 L1456.29 243.71 L1458.79 242.9 L1461.29 242.04 L1463.79 241.12 L1466.3 240.14 L1468.8 239.09 L1471.3 237.98 L1473.8 236.8 L1476.3 235.55 L1478.8 234.23 L1481.3 232.83 L1483.81 231.35 L1486.31 229.78 L1488.81 228.14 L1491.31 226.41 L1493.81 224.59 L1496.31 222.69 L1498.81 220.7 L1501.31 218.62 L1503.82 216.45 L1506.32 214.19 L1508.82 211.85 L1511.32 209.43 L1513.82 206.92 L1516.32 204.34 L1518.82 201.69 L1521.33 198.96 L1523.83 196.17 L1526.33 193.32 L1528.83 190.42 L1531.33 187.47 L1533.83 184.49 L1536.33 181.47 L1538.83 178.43 L1541.34 175.37 L1543.84 172.3 L1546.34 169.23 L1548.84 166.17 L1551.34 163.12 L1553.84 160.1 L1556.34 157.11 L1558.85 154.16 L1561.35 151.25 L1563.85 148.39 L1566.35 145.59 L1568.85 142.85 L1571.35 140.17 L1573.85 137.57 L1576.35 135.04 L1578.86 132.59 L1581.36 130.21 L1583.86 127.92 L1586.36 125.71 L1588.86 123.59 L1591.36 121.55 L1593.86 119.59 L1596.37 117.71 L1598.87 115.92 L1601.37 114.21 L1603.87 112.58 L1606.37 111.03 L1608.87 109.55 L1611.37 108.15 L1613.87 106.82 L1616.38 105.56 L1618.88 104.37 L1621.38 103.24 L1623.88 102.17 L1626.38 101.16 L1628.88 100.21 L1631.38 99.32 L1633.89 98.47 L1636.39 97.68 L1638.89 96.93 L1641.39 96.23 L1643.89 95.57 L1646.39 94.95 L1648.89 94.37 L1651.39 93.82 L1653.9 93.31 L1656.4 92.83 L1658.9 92.38 L1661.4 91.95 L1663.9 91.56 L1666.4 91.19 L1668.9 90.84 L1671.41 90.52 L1673.91 90.22 L1676.41 89.93 L1678.91 89.67 L1681.41 89.42 L1683.91 89.19 L1686.41 88.97 L1688.91 88.77" fill="none" stroke="#990000" stroke-width="2.5" stroke-linejoin="round"/>
<line x1="1688.91" y1="84.5" x2="1688.91" y2="102" stroke="#990000" stroke-width="2.9" stroke-linecap="butt"/>
<line x1="1683.91" y1="84.5" x2="1693.91" y2="84.5" stroke="#990000" stroke-width="2.9" stroke-linecap="butt"/>
<line x1="1683.91" y1="102" x2="1693.91" y2="102" stroke="#990000" stroke-width="2.9" stroke-linecap="butt"/>
<line x1="1651.71" y1="80.5" x2="1651.71" y2="98.25" stroke="#990000" stroke-width="2.9" stroke-linecap="butt"/>
<line x1="1646.71" y1="80.5" x2="1656.71" y2="80.5" stroke="#990000" stroke-width="2.9" stroke-linecap="butt"/>
<line x1="1646.71" y1="98.25" x2="1656.71" y2="98.25" stroke="#990000" stroke-width="2.9" stroke-linecap="butt"/>
<line x1="1614.5" y1="93.75" x2="1614.5" y2="115" stroke="#990000" stroke-width="2.9" stroke-linecap="butt"/>
<line x1="1609.5" y1="93.75" x2="1619.5" y2="93.75" stroke="#990000" stroke-width="2.9" stroke-linecap="butt"/>
<line x1="1609.5" y1="115" x2="1619.5" y2="115" stroke="#990000" stroke-width="2.9" stroke-linecap="butt"/>
<line x1="1540.09" y1="165.5" x2="1540.09" y2="187" stroke="#990000" stroke-width="2.9" stroke-linecap="butt"/>
<line x1="1535.09" y1="165.5" x2="1545.09" y2="165.5" stroke="#990000" stroke-width="2.9" stroke-linecap="butt"/>
<line x1="1535.09" y1="187" x2="1545.09" y2="187" stroke="#990000" stroke-width="2.9" stroke-linecap="butt"/>
<line x1="1502.88" y1="209.5" x2="1502.88" y2="223" stroke="#990000" stroke-width="2.9" stroke-linecap="butt"/>
<line x1="1497.88" y1="209.5" x2="1507.88" y2="209.5" stroke="#990000" stroke-width="2.9" stroke-linecap="butt"/>
<line x1="1497.88" y1="223" x2="1507.88" y2="223" stroke="#990000" stroke-width="2.9" stroke-linecap="butt"/>
<rect x="1684.01" y="88.35" width="9.8" height="9.8" fill="#990000"/>
<rect x="1646.81" y="84.35" width="9.8" height="9.8" fill="#990000"/>
<rect x="1609.6" y="99.35" width="9.8" height="9.8" fill="#990000"/>
<rect x="1572.39" y="130.6" width="9.8" height="9.8" fill="#990000"/>
<rect x="1535.19" y="171.35" width="9.8" height="9.8" fill="#990000"/>
<rect x="1497.98" y="211.35" width="9.8" height="9.8" fill="#990000"/>
<rect x="1460.77" y="237.6" width="9.8" height="9.8" fill="#990000"/>
<rect x="1423.56" y="244.6" width="9.8" height="9.8" fill="#990000"/>
<rect x="1386.36" y="247.6" width="9.8" height="9.8" fill="#990000"/>
<line x1="909" y1="431" x2="909" y2="651.55" stroke="#000000" stroke-width="2.5" stroke-linecap="butt"/>
<line x1="907.75" y1="650.3" x2="1237" y2="650.3" stroke="#000000" stroke-width="2.5" stroke-linecap="butt"/>
<line x1="902" y1="642" x2="909" y2="642" stroke="#000000" stroke-width="2.5" stroke-linecap="butt"/>
<text x="900.5" y="648.1" font-size="17.3" font-weight="bold" text-anchor="end">1</text>
<line x1="904.8" y1="621.02" x2="909" y2="621.02" stroke="#000000" stroke-width="2.5" stroke-linecap="butt"/>
<line x1="902" y1="600.05" x2="909" y2="600.05" stroke="#000000" stroke-width="2.5" stroke-linecap="butt"/>
<text x="900.5" y="606.15" font-size="17.3" font-weight="bold" text-anchor="end">2</text>
<line x1="904.8" y1="579.08" x2="909" y2="579.08" stroke="#000000" stroke-width="2.5" stroke-linecap="butt"/>
<line x1="902" y1="558.1" x2="909" y2="558.1" stroke="#000000" stroke-width="2.5" stroke-linecap="butt"/>
<text x="900.5" y="564.2" font-size="17.3" font-weight="bold" text-anchor="end">3</text>
<line x1="904.8" y1="537.12" x2="909" y2="537.12" stroke="#000000" stroke-width="2.5" stroke-linecap="butt"/>
<line x1="902" y1="516.15" x2="909" y2="516.15" stroke="#000000" stroke-width="2.5" stroke-linecap="butt"/>
<text x="900.5" y="522.25" font-size="17.3" font-weight="bold" text-anchor="end">4</text>
<line x1="904.8" y1="495.17" x2="909" y2="495.17" stroke="#000000" stroke-width="2.5" stroke-linecap="butt"/>
<line x1="902" y1="474.2" x2="909" y2="474.2" stroke="#000000" stroke-width="2.5" stroke-linecap="butt"/>
<text x="900.5" y="480.3" font-size="17.3" font-weight="bold" text-anchor="end">5</text>
<line x1="904.8" y1="453.23" x2="909" y2="453.23" stroke="#000000" stroke-width="2.5" stroke-linecap="butt"/>
<line x1="902" y1="432.25" x2="909" y2="432.25" stroke="#000000" stroke-width="2.5" stroke-linecap="butt"/>
<text x="900.5" y="438.35" font-size="17.3" font-weight="bold" text-anchor="end">6</text>
<line x1="957.7" y1="650.3" x2="957.7" y2="657.3" stroke="#000000" stroke-width="2.5" stroke-linecap="butt"/>
<text x="944.1" y="674.8" font-size="16.3" font-weight="bold">10<tspan font-size="11.2" dx="0.9" dy="-5">-3</tspan></text>
<line x1="1019.6" y1="650.3" x2="1019.6" y2="657.3" stroke="#000000" stroke-width="2.5" stroke-linecap="butt"/>
<text x="1006" y="674.8" font-size="16.3" font-weight="bold">10<tspan font-size="11.2" dx="0.9" dy="-5">-2</tspan></text>
<line x1="1081.5" y1="650.3" x2="1081.5" y2="657.3" stroke="#000000" stroke-width="2.5" stroke-linecap="butt"/>
<text x="1067.9" y="674.8" font-size="16.3" font-weight="bold">10<tspan font-size="11.2" dx="0.9" dy="-5">-1</tspan></text>
<line x1="1143.4" y1="650.3" x2="1143.4" y2="657.3" stroke="#000000" stroke-width="2.5" stroke-linecap="butt"/>
<text x="1129.8" y="674.8" font-size="16.3" font-weight="bold">10<tspan font-size="11.2" dx="0.9" dy="-5">0</tspan></text>
<line x1="1205.3" y1="650.3" x2="1205.3" y2="657.3" stroke="#000000" stroke-width="2.5" stroke-linecap="butt"/>
<text x="1191.7" y="674.8" font-size="16.3" font-weight="bold">10<tspan font-size="11.2" dx="0.9" dy="-5">1</tspan></text>
<text x="950" y="696.5" font-size="17.9" font-weight="bold" textLength="244.51" lengthAdjust="spacing">Antibody concentration (nM)</text>
<text x="1036.3" y="445" font-size="21" font-weight="bold" textLength="70.71" lengthAdjust="spacing">RT-11D</text>
<text x="871" y="546.57" font-size="17.8" font-weight="bold" text-anchor="middle" transform="rotate(-90 871 546.57)">Relative Rate of Growth</text>
<path d="M919.79 641.5 L922.3 641.57 L924.81 641.64 L927.31 641.71 L929.82 641.78 L932.32 641.85 L934.83 641.91 L937.33 641.98 L939.84 642.05 L942.34 642.11 L944.85 642.18 L947.35 642.24 L949.86 642.3 L952.36 642.37 L954.87 642.43 L957.38 642.49 L959.88 642.55 L962.39 642.61 L964.89 642.67 L967.4 642.73 L969.9 642.79 L972.41 642.84 L974.91 642.9 L977.42 642.95 L979.92 643.01 L982.43 643.06 L984.93 643.11 L987.44 643.16 L989.95 643.21 L992.45 643.26 L994.96 643.31 L997.46 643.36 L999.97 643.41 L1002.47 643.45 L1004.98 643.49 L1007.48 643.54 L1009.99 643.58 L1012.49 643.62 L1015 643.66 L1017.5 643.7 L1020.01 643.74 L1022.52 643.78 L1025.02 643.82 L1027.53 643.85 L1030.03 643.89 L1032.54 643.93 L1035.04 643.96 L1037.55 644 L1040.05 644.04 L1042.56 644.08 L1045.06 644.11 L1047.57 644.15 L1050.07 644.19 L1052.58 644.23 L1055.09 644.27 L1057.59 644.31 L1060.1 644.35 L1062.6 644.39 L1065.11 644.43 L1067.61 644.48 L1070.12 644.52 L1072.62 644.57 L1075.13 644.62 L1077.63 644.67 L1080.14 644.73 L1082.64 644.78 L1085.15 644.84 L1087.66 644.9 L1090.16 644.96 L1092.67 645.02 L1095.17 645.08 L1097.68 645.14 L1100.18 645.2 L1102.69 645.26 L1105.19 645.32 L1107.7 645.38 L1110.2 645.44 L1112.71 645.49 L1115.21 645.55 L1117.72 645.6 L1120.23 645.66 L1122.73 645.71 L1125.24 645.75 L1127.74 645.8 L1130.25 645.84 L1132.75 645.88 L1135.26 645.91 L1137.76 645.94 L1140.27 645.97 L1142.77 645.99 L1145.28 646.01 L1147.78 646.03 L1150.29 646.05 L1152.8 646.07 L1155.3 646.09 L1157.81 646.11 L1160.31 646.13 L1162.82 646.14 L1165.32 646.16 L1167.83 646.17 L1170.33 646.18 L1172.84 646.19 L1175.34 646.19 L1177.85 646.2 L1180.35 646.2 L1182.86 646.2 L1185.37 646.2 L1187.87 646.2 L1190.38 646.2 L1192.88 646.2 L1195.39 646.2 L1197.89 646.2 L1200.4 646.2 L1202.9 646.2 L1205.41 646.2 L1207.91 646.2 L1210.42 646.2 L1212.92 646.2 L1215.43 646.2 L1217.94 646.2" fill="none" stroke="#ff8000" stroke-width="2.5" stroke-linejoin="round"/>
<polygon points="1213.32,645.25 1215.54,640.99 1220.33,640.99 1222.55,645.25 1220.33,649.51 1215.54,649.51" fill="#ff8000"/>
<polygon points="1176.06,648.25 1178.27,643.99 1183.07,643.99 1185.28,648.25 1183.07,652.51 1178.27,652.51" fill="#ff8000"/>
<polygon points="1138.79,647 1141,642.74 1145.8,642.74 1148.01,647 1145.8,651.26 1141,651.26" fill="#ff8000"/>
<polygon points="1101.52,645.25 1103.73,640.99 1108.53,640.99 1110.74,645.25 1108.53,649.51 1103.73,649.51" fill="#ff8000"/>
<polygon points="1064.25,643.5 1066.47,639.24 1071.26,639.24 1073.48,643.5 1071.26,647.76 1066.47,647.76" fill="#ff8000"/>
<polygon points="1026.99,646 1029.2,641.74 1034,641.74 1036.21,646 1034,650.26 1029.2,650.26" fill="#ff8000"/>
<polygon points="989.72,644 991.93,639.74 996.73,639.74 998.94,644 996.73,648.26 991.93,648.26" fill="#ff8000"/>
<polygon points="952.45,646 954.66,641.74 959.46,641.74 961.67,646 959.46,650.26 954.66,650.26" fill="#ff8000"/>
<polygon points="915.18,641.5 917.4,637.24 922.19,637.24 924.41,641.5 922.19,645.76 917.4,645.76" fill="#ff8000"/>
<path d="M919.79 642.3 L922.3 642.3 L924.81 642.3 L927.31 642.3 L929.82 642.3 L932.32 642.3 L934.83 642.3 L937.33 642.3 L939.84 642.3 L942.34 642.3 L944.85 642.3 L947.35 642.3 L949.86 642.3 L952.36 642.3 L954.87 642.3 L957.38 642.3 L959.88 642.3 L962.39 642.3 L964.89 642.3 L967.4 642.3 L969.9 642.3 L972.41 642.3 L974.91 642.3 L977.42 642.3 L979.92 642.3 L982.43 642.3 L984.93 642.3 L987.44 642.3 L989.95 642.3 L992.45 642.3 L994.96 642.3 L997.46 642.3 L999.97 642.3 L1002.47 642.3 L1004.98 642.3 L1007.48 642.3 L1009.99 642.3 L1012.49 642.3 L1015 642.3 L1017.5 642.3 L1020.01 642.3 L1022.52 642.3 L1025.02 642.3 L1027.53 642.3 L1030.03 642.3 L1032.54 642.3 L1035.04 642.3 L1037.55 642.3 L1040.05 642.29 L1042.56 642.29 L1045.06 642.28 L1047.57 642.28 L1050.07 642.27 L1052.58 642.26 L1055.09 642.26 L1057.59 642.25 L1060.1 642.24 L1062.6 642.23 L1065.11 642.22 L1067.61 642.21 L1070.12 642.19 L1072.62 642.18 L1075.13 642.15 L1077.63 642.13 L1080.14 642.09 L1082.64 642.06 L1085.15 642.01 L1087.66 641.97 L1090.16 641.92 L1092.67 641.86 L1095.17 641.8 L1097.68 641.74 L1100.18 641.67 L1102.69 641.6 L1105.19 641.53 L1107.7 641.45 L1110.2 641.35 L1112.71 641.24 L1115.21 641.1 L1117.72 640.95 L1120.23 640.78 L1122.73 640.6 L1125.24 640.4 L1127.74 640.18 L1130.25 639.95 L1132.75 639.7 L1135.26 639.44 L1137.76 639.17 L1140.27 638.88 L1142.77 638.58 L1145.28 638.25 L1147.78 637.87 L1150.29 637.43 L1152.8 636.93 L1155.3 636.39 L1157.81 635.8 L1160.31 635.15 L1162.82 634.47 L1165.32 633.74 L1167.83 632.97 L1170.33 632.17 L1172.84 631.33 L1175.34 630.45 L1177.85 629.55 L1180.35 628.62 L1182.86 627.63 L1185.37 626.52 L1187.87 625.32 L1190.38 624.01 L1192.88 622.6 L1195.39 621.11 L1197.89 619.53 L1200.4 617.88 L1202.9 616.15 L1205.41 614.35 L1207.91 612.48 L1210.42 610.56 L1212.92 608.59 L1215.43 606.56 L1217.94 604.5" fill="none" stroke="#000000" stroke-width="2.5" stroke-linejoin="round"/>
<polygon points="1213.62,604.5 1217.94,599.56 1222.26,604.5 1217.94,609.44" fill="#000000"/>
<polygon points="1176.35,627.75 1180.67,622.81 1184.99,627.75 1180.67,632.69" fill="#000000"/>
<polygon points="1139.08,637.75 1143.4,632.81 1147.72,637.75 1143.4,642.69" fill="#000000"/>
<polygon points="1101.81,643.25 1106.13,638.31 1110.45,643.25 1106.13,648.19" fill="#000000"/>
<polygon points="1064.54,642.25 1068.86,637.31 1073.18,642.25 1068.86,647.19" fill="#000000"/>
<polygon points="1027.28,642.75 1031.6,637.81 1035.92,642.75 1031.6,647.69" fill="#000000"/>
<polygon points="990.01,642 994.33,637.06 998.65,642 994.33,646.94" fill="#000000"/>
<polygon points="952.74,643.5 957.06,638.56 961.38,643.5 957.06,648.44" fill="#000000"/>
<polygon points="915.47,642.75 919.79,637.81 924.11,642.75 919.79,647.69" fill="#000000"/>
<path d="M919.79 629.01 L922.3 628.91 L924.81 628.79 L927.31 628.66 L929.82 628.51 L932.32 628.35 L934.83 628.16 L937.33 627.96 L939.84 627.72 L942.34 627.46 L944.85 627.18 L947.35 626.85 L949.86 626.49 L952.36 626.1 L954.87 625.65 L957.38 625.17 L959.88 624.63 L962.39 624.04 L964.89 623.39 L967.4 622.68 L969.9 621.91 L972.41 621.07 L974.91 620.16 L977.42 619.19 L979.92 618.15 L982.43 617.05 L984.93 615.88 L987.44 614.65 L989.95 613.37 L992.45 612.04 L994.96 610.67 L997.46 609.27 L999.97 607.84 L1002.47 606.41 L1004.98 604.97 L1007.48 603.54 L1009.99 602.14 L1012.49 600.76 L1015 599.42 L1017.5 598.13 L1020.01 596.89 L1022.52 595.71 L1025.02 594.59 L1027.53 593.54 L1030.03 592.56 L1032.54 591.64 L1035.04 590.79 L1037.55 590.01 L1040.05 589.29 L1042.56 588.63 L1045.06 588.02 L1047.57 587.48 L1050.07 586.98 L1052.58 586.53 L1055.09 586.12 L1057.59 585.76 L1060.1 585.43 L1062.6 585.13 L1065.11 584.87 L1067.61 584.63 L1070.12 584.42 L1072.62 584.23 L1075.13 584.06 L1077.63 583.91 L1080.14 583.78 L1082.64 583.66 L1085.15 583.55 L1087.66 583.46 L1090.16 583.37 L1092.67 583.3 L1095.17 583.23 L1097.68 583.18 L1100.18 583.12 L1102.69 583.08 L1105.19 583.04 L1107.7 583 L1110.2 582.97 L1112.71 582.94 L1115.21 582.91 L1117.72 582.89 L1120.23 582.87 L1122.73 582.86 L1125.24 582.84 L1127.74 582.83 L1130.25 582.81 L1132.75 582.8 L1135.26 582.79 L1137.76 582.79 L1140.27 582.78 L1142.77 582.77 L1145.28 582.77 L1147.78 582.76 L1150.29 582.76 L1152.8 582.75 L1155.3 582.75 L1157.81 582.74 L1160.31 582.74 L1162.82 582.74 L1165.32 582.74 L1167.83 582.74 L1170.33 582.73 L1172.84 582.73 L1175.34 582.73 L1177.85 582.73 L1180.35 582.73 L1182.86 582.73 L1185.37 582.73 L1187.87 582.73 L1190.38 582.73 L1192.88 582.72 L1195.39 582.72 L1197.89 582.72 L1200.4 582.72 L1202.9 582.72 L1205.41 582.72 L1207.91 582.72 L1210.42 582.72 L1212.92 582.72 L1215.43 582.72 L1217.94 582.72" fill="none" stroke="#12869b" stroke-width="2.5" stroke-linejoin="round"/>
<line x1="1106.13" y1="567.75" x2="1106.13" y2="580" stroke="#12869b" stroke-width="2.9" stroke-linecap="butt"/>
<line x1="1101.13" y1="567.75" x2="1111.13" y2="567.75" stroke="#12869b" stroke-width="2.9" stroke-linecap="butt"/>
<line x1="1101.13" y1="580" x2="1111.13" y2="580" stroke="#12869b" stroke-width="2.9" stroke-linecap="butt"/>
<polygon points="1212.94,601.2 1222.94,601.2 1217.94,591.2" fill="#12869b"/>
<polygon points="1175.67,593.7 1185.67,593.7 1180.67,583.7" fill="#12869b"/>
<polygon points="1138.4,584.2 1148.4,584.2 1143.4,574.2" fill="#12869b"/>
<polygon points="1101.13,578.7 1111.13,578.7 1106.13,568.7" fill="#12869b"/>
<polygon points="1063.86,581.7 1073.86,581.7 1068.86,571.7" fill="#12869b"/>
<polygon points="1026.6,599.95 1036.6,599.95 1031.6,589.95" fill="#12869b"/>
<polygon points="989.33,615.7 999.33,615.7 994.33,605.7" fill="#12869b"/>
<polygon points="952.06,628.2 962.06,628.2 957.06,618.2" fill="#12869b"/>
<polygon points="914.79,634.2 924.79,634.2 919.79,624.2" fill="#12869b"/>
<path d="M919.79 631.36 L922.3 631.33 L924.81 631.3 L927.31 631.27 L929.82 631.23 L932.32 631.19 L934.83 631.14 L937.33 631.09 L939.84 631.04 L942.34 630.98 L944.85 630.91 L947.35 630.84 L949.86 630.75 L952.36 630.67 L954.87 630.57 L957.38 630.46 L959.88 630.34 L962.39 630.21 L964.89 630.06 L967.4 629.9 L969.9 629.73 L972.41 629.53 L974.91 629.32 L977.42 629.09 L979.92 628.83 L982.43 628.55 L984.93 628.24 L987.44 627.89 L989.95 627.52 L992.45 627.1 L994.96 626.65 L997.46 626.15 L999.97 625.6 L1002.47 624.99 L1004.98 624.33 L1007.48 623.6 L1009.99 622.8 L1012.49 621.92 L1015 620.96 L1017.5 619.91 L1020.01 618.76 L1022.52 617.5 L1025.02 616.13 L1027.53 614.63 L1030.03 612.99 L1032.54 611.21 L1035.04 609.27 L1037.55 607.16 L1040.05 604.89 L1042.56 602.42 L1045.06 599.76 L1047.57 596.91 L1050.07 593.84 L1052.58 590.56 L1055.09 587.06 L1057.59 583.35 L1060.1 579.42 L1062.6 575.29 L1065.11 570.96 L1067.61 566.45 L1070.12 561.77 L1072.62 556.95 L1075.13 552.02 L1077.63 547 L1080.14 541.93 L1082.64 536.85 L1085.15 531.78 L1087.66 526.77 L1090.16 521.85 L1092.67 517.05 L1095.17 512.41 L1097.68 507.95 L1100.18 503.7 L1102.69 499.66 L1105.19 495.86 L1107.7 492.31 L1110.2 488.99 L1112.71 485.93 L1115.21 483.1 L1117.72 480.51 L1120.23 478.15 L1122.73 476 L1125.24 474.05 L1127.74 472.29 L1130.25 470.7 L1132.75 469.28 L1135.26 468 L1137.76 466.86 L1140.27 465.84 L1142.77 464.94 L1145.28 464.13 L1147.78 463.42 L1150.29 462.78 L1152.8 462.22 L1155.3 461.72 L1157.81 461.28 L1160.31 460.89 L1162.82 460.55 L1165.32 460.25 L1167.83 459.98 L1170.33 459.75 L1172.84 459.54 L1175.34 459.35 L1177.85 459.19 L1180.35 459.05 L1182.86 458.93 L1185.37 458.82 L1187.87 458.72 L1190.38 458.64 L1192.88 458.56 L1195.39 458.5 L1197.89 458.44 L1200.4 458.39 L1202.9 458.34 L1205.41 458.3 L1207.91 458.27 L1210.42 458.24 L1212.92 458.21 L1215.43 458.19 L1217.94 458.17" fill="none" stroke="#0000ff" stroke-width="2.5" stroke-linejoin="round"/>
<line x1="1180.67" y1="450.75" x2="1180.67" y2="466.25" stroke="#0000ff" stroke-width="2.9" stroke-linecap="butt"/>
<line x1="1175.67" y1="450.75" x2="1185.67" y2="450.75" stroke="#0000ff" stroke-width="2.9" stroke-linecap="butt"/>
<line x1="1175.67" y1="466.25" x2="1185.67" y2="466.25" stroke="#0000ff" stroke-width="2.9" stroke-linecap="butt"/>
<line x1="1143.4" y1="453.75" x2="1143.4" y2="478.75" stroke="#0000ff" stroke-width="2.9" stroke-linecap="butt"/>
<line x1="1138.4" y1="453.75" x2="1148.4" y2="453.75" stroke="#0000ff" stroke-width="2.9" stroke-linecap="butt"/>
<line x1="1138.4" y1="478.75" x2="1148.4" y2="478.75" stroke="#0000ff" stroke-width="2.9" stroke-linecap="butt"/>
<line x1="1106.13" y1="490" x2="1106.13" y2="502" stroke="#0000ff" stroke-width="2.9" stroke-linecap="butt"/>
<line x1="1101.13" y1="490" x2="1111.13" y2="490" stroke="#0000ff" stroke-width="2.9" stroke-linecap="butt"/>
<line x1="1101.13" y1="502" x2="1111.13" y2="502" stroke="#0000ff" stroke-width="2.9" stroke-linecap="butt"/>
<polygon points="1212.94,454.75 1222.94,454.75 1217.94,464.75" fill="#0000ff"/>
<polygon points="1175.67,454.25 1185.67,454.25 1180.67,464.25" fill="#0000ff"/>
<polygon points="1138.4,461.75 1148.4,461.75 1143.4,471.75" fill="#0000ff"/>
<polygon points="1101.13,490 1111.13,490 1106.13,500" fill="#0000ff"/>
<polygon points="1063.86,559.75 1073.86,559.75 1068.86,569.75" fill="#0000ff"/>
<polygon points="1026.6,601 1036.6,601 1031.6,611" fill="#0000ff"/>
<polygon points="989.33,620.75 999.33,620.75 994.33,630.75" fill="#0000ff"/>
<polygon points="952.06,627 962.06,627 957.06,637" fill="#0000ff"/>
<polygon points="914.79,627 924.79,627 919.79,637" fill="#0000ff"/>
<path d="M919.79 638.93 L922.3 638.88 L924.81 638.83 L927.31 638.77 L929.82 638.71 L932.32 638.65 L934.83 638.59 L937.33 638.52 L939.84 638.44 L942.34 638.37 L944.85 638.28 L947.35 638.2 L949.86 638.1 L952.36 638 L954.87 637.9 L957.38 637.79 L959.88 637.67 L962.39 637.55 L964.89 637.42 L967.4 637.28 L969.9 637.13 L972.41 636.97 L974.91 636.81 L977.42 636.63 L979.92 636.44 L982.43 636.24 L984.93 636.03 L987.44 635.81 L989.95 635.57 L992.45 635.32 L994.96 635.06 L997.46 634.78 L999.97 634.48 L1002.47 634.17 L1004.98 633.83 L1007.48 633.48 L1009.99 633.1 L1012.49 632.71 L1015 632.28 L1017.5 631.84 L1020.01 631.37 L1022.52 630.87 L1025.02 630.34 L1027.53 629.78 L1030.03 629.19 L1032.54 628.57 L1035.04 627.9 L1037.55 627.2 L1040.05 626.46 L1042.56 625.68 L1045.06 624.85 L1047.57 623.98 L1050.07 623.06 L1052.58 622.09 L1055.09 621.06 L1057.59 619.97 L1060.1 618.83 L1062.6 617.63 L1065.11 616.36 L1067.61 615.02 L1070.12 613.61 L1072.62 612.13 L1075.13 610.57 L1077.63 608.93 L1080.14 607.22 L1082.64 605.41 L1085.15 603.52 L1087.66 601.54 L1090.16 599.47 L1092.67 597.31 L1095.17 595.04 L1097.68 592.68 L1100.18 590.22 L1102.69 587.66 L1105.19 585 L1107.7 582.23 L1110.2 579.37 L1112.71 576.4 L1115.21 573.33 L1117.72 570.17 L1120.23 566.91 L1122.73 563.56 L1125.24 560.12 L1127.74 556.6 L1130.25 553 L1132.75 549.33 L1135.26 545.59 L1137.76 541.79 L1140.27 537.95 L1142.77 534.06 L1145.28 530.14 L1147.78 526.2 L1150.29 522.24 L1152.8 518.28 L1155.3 514.33 L1157.81 510.4 L1160.31 506.49 L1162.82 502.63 L1165.32 498.81 L1167.83 495.04 L1170.33 491.34 L1172.84 487.72 L1175.34 484.17 L1177.85 480.72 L1180.35 477.36 L1182.86 474.09 L1185.37 470.94 L1187.87 467.89 L1190.38 464.95 L1192.88 462.12 L1195.39 459.4 L1197.89 456.8 L1200.4 454.32 L1202.9 451.95 L1205.41 449.69 L1207.91 447.54 L1210.42 445.51 L1212.92 443.57 L1215.43 441.75 L1217.94 440.02" fill="none" stroke="#990000" stroke-width="2.5" stroke-linejoin="round"/>
<line x1="1217.94" y1="433" x2="1217.94" y2="448" stroke="#990000" stroke-width="2.9" stroke-linecap="butt"/>
<line x1="1212.94" y1="433" x2="1222.94" y2="433" stroke="#990000" stroke-width="2.9" stroke-linecap="butt"/>
<line x1="1212.94" y1="448" x2="1222.94" y2="448" stroke="#990000" stroke-width="2.9" stroke-linecap="butt"/>
<rect x="1213.04" y="435.1" width="9.8" height="9.8" fill="#990000"/>
<rect x="1175.77" y="472.1" width="9.8" height="9.8" fill="#990000"/>
<rect x="1138.5" y="528.1" width="9.8" height="9.8" fill="#990000"/>
<rect x="1101.23" y="577.85" width="9.8" height="9.8" fill="#990000"/>
<rect x="1063.96" y="608.35" width="9.8" height="9.8" fill="#990000"/>
<rect x="1026.7" y="624.6" width="9.8" height="9.8" fill="#990000"/>
<rect x="989.43" y="631.6" width="9.8" height="9.8" fill="#990000"/>
<rect x="952.16" y="634.6" width="9.8" height="9.8" fill="#990000"/>
<rect x="914.89" y="633.35" width="9.8" height="9.8" fill="#990000"/>
<line x1="1380" y1="445.15" x2="1380" y2="665.75" stroke="#000000" stroke-width="2.5" stroke-linecap="butt"/>
<line x1="1378.75" y1="664.5" x2="1708.8" y2="664.5" stroke="#000000" stroke-width="2.5" stroke-linecap="butt"/>
<line x1="1373" y1="655.9" x2="1380" y2="655.9" stroke="#000000" stroke-width="2.5" stroke-linecap="butt"/>
<text x="1371.5" y="662" font-size="17.3" font-weight="bold" text-anchor="end">1</text>
<line x1="1375.8" y1="634.95" x2="1380" y2="634.95" stroke="#000000" stroke-width="2.5" stroke-linecap="butt"/>
<line x1="1373" y1="614" x2="1380" y2="614" stroke="#000000" stroke-width="2.5" stroke-linecap="butt"/>
<text x="1371.5" y="620.1" font-size="17.3" font-weight="bold" text-anchor="end">2</text>
<line x1="1375.8" y1="593.05" x2="1380" y2="593.05" stroke="#000000" stroke-width="2.5" stroke-linecap="butt"/>
<line x1="1373" y1="572.1" x2="1380" y2="572.1" stroke="#000000" stroke-width="2.5" stroke-linecap="butt"/>
<text x="1371.5" y="578.2" font-size="17.3" font-weight="bold" text-anchor="end">3</text>
<line x1="1375.8" y1="551.15" x2="1380" y2="551.15" stroke="#000000" stroke-width="2.5" stroke-linecap="butt"/>
<line x1="1373" y1="530.2" x2="1380" y2="530.2" stroke="#000000" stroke-width="2.5" stroke-linecap="butt"/>
<text x="1371.5" y="536.3" font-size="17.3" font-weight="bold" text-anchor="end">4</text>
<line x1="1375.8" y1="509.25" x2="1380" y2="509.25" stroke="#000000" stroke-width="2.5" stroke-linecap="butt"/>
<line x1="1373" y1="488.3" x2="1380" y2="488.3" stroke="#000000" stroke-width="2.5" stroke-linecap="butt"/>
<text x="1371.5" y="494.4" font-size="17.3" font-weight="bold" text-anchor="end">5</text>
<line x1="1375.8" y1="467.35" x2="1380" y2="467.35" stroke="#000000" stroke-width="2.5" stroke-linecap="butt"/>
<line x1="1373" y1="446.4" x2="1380" y2="446.4" stroke="#000000" stroke-width="2.5" stroke-linecap="butt"/>
<text x="1371.5" y="452.5" font-size="17.3" font-weight="bold" text-anchor="end">6</text>
<line x1="1429.1" y1="664.5" x2="1429.1" y2="671.5" stroke="#000000" stroke-width="2.5" stroke-linecap="butt"/>
<text x="1415.5" y="688.6" font-size="16.3" font-weight="bold">10<tspan font-size="11.2" dx="0.9" dy="-5">-3</tspan></text>
<line x1="1490.9" y1="664.5" x2="1490.9" y2="671.5" stroke="#000000" stroke-width="2.5" stroke-linecap="butt"/>
<text x="1477.3" y="688.6" font-size="16.3" font-weight="bold">10<tspan font-size="11.2" dx="0.9" dy="-5">-2</tspan></text>
<line x1="1552.7" y1="664.5" x2="1552.7" y2="671.5" stroke="#000000" stroke-width="2.5" stroke-linecap="butt"/>
<text x="1539.1" y="688.6" font-size="16.3" font-weight="bold">10<tspan font-size="11.2" dx="0.9" dy="-5">-1</tspan></text>
<line x1="1614.5" y1="664.5" x2="1614.5" y2="671.5" stroke="#000000" stroke-width="2.5" stroke-linecap="butt"/>
<text x="1600.9" y="688.6" font-size="16.3" font-weight="bold">10<tspan font-size="11.2" dx="0.9" dy="-5">0</tspan></text>
<line x1="1676.3" y1="664.5" x2="1676.3" y2="671.5" stroke="#000000" stroke-width="2.5" stroke-linecap="butt"/>
<text x="1662.7" y="688.6" font-size="16.3" font-weight="bold">10<tspan font-size="11.2" dx="0.9" dy="-5">1</tspan></text>
<text x="1422.5" y="711" font-size="17.9" font-weight="bold" textLength="242.51" lengthAdjust="spacing">Antibody concentration (nM)</text>
<text x="1508.8" y="458.8" font-size="21" font-weight="bold" textLength="70.51" lengthAdjust="spacing">RT-11D</text>
<text x="1341.5" y="562.95" font-size="17.8" font-weight="bold" text-anchor="middle" transform="rotate(-90 1341.5 562.95)">Relative Rate of Growth</text>
<path d="M1391.26 651.5 L1393.76 651.5 L1396.26 651.5 L1398.76 651.5 L1401.26 651.5 L1403.76 651.5 L1406.26 651.5 L1408.77 651.5 L1411.27 651.5 L1413.77 651.5 L1416.27 651.5 L1418.77 651.5 L1421.27 651.5 L1423.77 651.5 L1426.27 651.5 L1428.78 651.5 L1431.28 651.5 L1433.78 651.51 L1436.28 651.52 L1438.78 651.53 L1441.28 651.54 L1443.78 651.56 L1446.29 651.57 L1448.79 651.6 L1451.29 651.62 L1453.79 651.65 L1456.29 651.68 L1458.79 651.71 L1461.29 651.74 L1463.79 651.77 L1466.3 651.81 L1468.8 651.88 L1471.3 651.99 L1473.8 652.14 L1476.3 652.33 L1478.8 652.54 L1481.3 652.77 L1483.81 653.02 L1486.31 653.28 L1488.81 653.55 L1491.31 653.82 L1493.81 654.1 L1496.31 654.36 L1498.81 654.62 L1501.31 654.86 L1503.82 655.08 L1506.32 655.31 L1508.82 655.55 L1511.32 655.79 L1513.82 656.04 L1516.32 656.29 L1518.82 656.54 L1521.33 656.79 L1523.83 657.03 L1526.33 657.26 L1528.83 657.48 L1531.33 657.68 L1533.83 657.87 L1536.33 658.04 L1538.83 658.19 L1541.34 658.31 L1543.84 658.43 L1546.34 658.54 L1548.84 658.66 L1551.34 658.76 L1553.84 658.87 L1556.34 658.96 L1558.85 659.05 L1561.35 659.14 L1563.85 659.22 L1566.35 659.29 L1568.85 659.35 L1571.35 659.41 L1573.85 659.45 L1576.35 659.49 L1578.86 659.52 L1581.36 659.54 L1583.86 659.57 L1586.36 659.6 L1588.86 659.62 L1591.36 659.64 L1593.86 659.66 L1596.37 659.68 L1598.87 659.7 L1601.37 659.71 L1603.87 659.72 L1606.37 659.73 L1608.87 659.74 L1611.37 659.75 L1613.87 659.75 L1616.38 659.75 L1618.88 659.75 L1621.38 659.75 L1623.88 659.75 L1626.38 659.75 L1628.88 659.75 L1631.38 659.75 L1633.89 659.75 L1636.39 659.75 L1638.89 659.75 L1641.39 659.75 L1643.89 659.75 L1646.39 659.75 L1648.89 659.75 L1651.39 659.75 L1653.9 659.75 L1656.4 659.75 L1658.9 659.75 L1661.4 659.75 L1663.9 659.75 L1666.4 659.75 L1668.9 659.75 L1671.41 659.75 L1673.91 659.75 L1676.41 659.75 L1678.91 659.75 L1681.41 659.75 L1683.91 659.75 L1686.41 659.75 L1688.91 659.75" fill="none" stroke="#ff8000" stroke-width="2.5" stroke-linejoin="round"/>
<line x1="1502.88" y1="649" x2="1502.88" y2="661" stroke="#ff8000" stroke-width="2.9" stroke-linecap="butt"/>
<line x1="1497.88" y1="649" x2="1507.88" y2="649" stroke="#ff8000" stroke-width="2.9" stroke-linecap="butt"/>
<line x1="1497.88" y1="661" x2="1507.88" y2="661" stroke="#ff8000" stroke-width="2.9" stroke-linecap="butt"/>
<polygon points="1684.3,656.5 1686.52,652.24 1691.31,652.24 1693.53,656.5 1691.31,660.76 1686.52,660.76" fill="#ff8000"/>
<polygon points="1647.1,659 1649.31,654.74 1654.11,654.74 1656.32,659 1654.11,663.26 1649.31,663.26" fill="#ff8000"/>
<polygon points="1609.89,662 1612.1,657.74 1616.9,657.74 1619.11,662 1616.9,666.26 1612.1,666.26" fill="#ff8000"/>
<polygon points="1572.68,662 1574.89,657.74 1579.69,657.74 1581.9,662 1579.69,666.26 1574.89,666.26" fill="#ff8000"/>
<polygon points="1535.47,658.5 1537.69,654.24 1542.48,654.24 1544.7,658.5 1542.48,662.76 1537.69,662.76" fill="#ff8000"/>
<polygon points="1498.27,655.25 1500.48,650.99 1505.28,650.99 1507.49,655.25 1505.28,659.51 1500.48,659.51" fill="#ff8000"/>
<polygon points="1461.06,651 1463.27,646.74 1468.07,646.74 1470.28,651 1468.07,655.26 1463.27,655.26" fill="#ff8000"/>
<polygon points="1423.85,650 1426.07,645.74 1430.86,645.74 1433.07,650 1430.86,654.26 1426.07,654.26" fill="#ff8000"/>
<polygon points="1386.65,649.5 1388.86,645.24 1393.65,645.24 1395.87,649.5 1393.65,653.76 1388.86,653.76" fill="#ff8000"/>
<path d="M1391.26 652.75 L1393.76 652.75 L1396.26 652.75 L1398.76 652.75 L1401.26 652.75 L1403.76 652.75 L1406.26 652.75 L1408.77 652.75 L1411.27 652.75 L1413.77 652.75 L1416.27 652.75 L1418.77 652.75 L1421.27 652.75 L1423.77 652.75 L1426.27 652.75 L1428.78 652.75 L1431.28 652.75 L1433.78 652.75 L1436.28 652.75 L1438.78 652.75 L1441.28 652.75 L1443.78 652.75 L1446.29 652.75 L1448.79 652.75 L1451.29 652.75 L1453.79 652.75 L1456.29 652.75 L1458.79 652.75 L1461.29 652.75 L1463.79 652.75 L1466.3 652.75 L1468.8 652.75 L1471.3 652.75 L1473.8 652.75 L1476.3 652.75 L1478.8 652.75 L1481.3 652.75 L1483.81 652.75 L1486.31 652.75 L1488.81 652.75 L1491.31 652.75 L1493.81 652.75 L1496.31 652.75 L1498.81 652.75 L1501.31 652.75 L1503.82 652.75 L1506.32 652.75 L1508.82 652.75 L1511.32 652.75 L1513.82 652.75 L1516.32 652.75 L1518.82 652.75 L1521.33 652.75 L1523.83 652.75 L1526.33 652.75 L1528.83 652.75 L1531.33 652.75 L1533.83 652.75 L1536.33 652.75 L1538.83 652.75 L1541.34 652.75 L1543.84 652.75 L1546.34 652.74 L1548.84 652.74 L1551.34 652.73 L1553.84 652.73 L1556.34 652.72 L1558.85 652.71 L1561.35 652.7 L1563.85 652.68 L1566.35 652.67 L1568.85 652.66 L1571.35 652.64 L1573.85 652.62 L1576.35 652.61 L1578.86 652.59 L1581.36 652.56 L1583.86 652.52 L1586.36 652.48 L1588.86 652.43 L1591.36 652.37 L1593.86 652.3 L1596.37 652.22 L1598.87 652.14 L1601.37 652.05 L1603.87 651.96 L1606.37 651.86 L1608.87 651.76 L1611.37 651.64 L1613.87 651.53 L1616.38 651.4 L1618.88 651.25 L1621.38 651.07 L1623.88 650.87 L1626.38 650.64 L1628.88 650.39 L1631.38 650.11 L1633.89 649.81 L1636.39 649.49 L1638.89 649.14 L1641.39 648.77 L1643.89 648.37 L1646.39 647.96 L1648.89 647.52 L1651.39 647.06 L1653.9 646.55 L1656.4 645.93 L1658.9 645.21 L1661.4 644.4 L1663.9 643.5 L1666.4 642.52 L1668.9 641.47 L1671.41 640.34 L1673.91 639.15 L1676.41 637.9 L1678.91 636.6 L1681.41 635.26 L1683.91 633.87 L1686.41 632.45 L1688.91 631" fill="none" stroke="#000000" stroke-width="2.5" stroke-linejoin="round"/>
<polygon points="1684.59,631 1688.91,626.06 1693.23,631 1688.91,635.94" fill="#000000"/>
<polygon points="1647.39,646.5 1651.71,641.56 1656.03,646.5 1651.71,651.44" fill="#000000"/>
<polygon points="1610.18,651.5 1614.5,646.56 1618.82,651.5 1614.5,656.44" fill="#000000"/>
<polygon points="1572.97,653.5 1577.29,648.56 1581.61,653.5 1577.29,658.44" fill="#000000"/>
<polygon points="1535.77,654 1540.09,649.06 1544.41,654 1540.09,658.94" fill="#000000"/>
<polygon points="1498.56,656 1502.88,651.06 1507.2,656 1502.88,660.94" fill="#000000"/>
<polygon points="1461.35,654 1465.67,649.06 1469.99,654 1465.67,658.94" fill="#000000"/>
<polygon points="1424.14,653 1428.46,648.06 1432.78,653 1428.46,657.94" fill="#000000"/>
<polygon points="1386.94,652 1391.26,647.06 1395.58,652 1391.26,656.94" fill="#000000"/>
<path d="M1391.26 647 L1393.76 647 L1396.26 647 L1398.76 647 L1401.26 647 L1403.76 647 L1406.26 647 L1408.77 647 L1411.27 647 L1413.77 647 L1416.27 647 L1418.77 647 L1421.27 647 L1423.77 647 L1426.27 647 L1428.78 647 L1431.28 647 L1433.78 647 L1436.28 647 L1438.78 647 L1441.28 647 L1443.78 647 L1446.29 647 L1448.79 647 L1451.29 647 L1453.79 647 L1456.29 647 L1458.79 647 L1461.29 647 L1463.79 647 L1466.3 647 L1468.8 646.98 L1471.3 646.95 L1473.8 646.89 L1476.3 646.82 L1478.8 646.72 L1481.3 646.6 L1483.81 646.46 L1486.31 646.29 L1488.81 646.1 L1491.31 645.78 L1493.81 644.77 L1496.31 643.1 L1498.81 640.9 L1501.31 638.29 L1503.82 635.13 L1506.32 629.65 L1508.82 623.42 L1511.32 617.46 L1513.82 611.51 L1516.32 606.4 L1518.82 601.87 L1521.33 598.05 L1523.83 594.84 L1526.33 592.13 L1528.83 589.9 L1531.33 588.02 L1533.83 586.56 L1536.33 585.41 L1538.83 584.44 L1541.34 583.57 L1543.84 582.79 L1546.34 582.24 L1548.84 581.87 L1551.34 581.6 L1553.84 581.47 L1556.34 581.37 L1558.85 581.29 L1561.35 581.22 L1563.85 581.16 L1566.35 581.1 L1568.85 581.06 L1571.35 581.03 L1573.85 581.01 L1576.35 581 L1578.86 581 L1581.36 581 L1583.86 581 L1586.36 581 L1588.86 581 L1591.36 581 L1593.86 581 L1596.37 581 L1598.87 581 L1601.37 581 L1603.87 581 L1606.37 581 L1608.87 581 L1611.37 581 L1613.87 581 L1616.38 581 L1618.88 581 L1621.38 581 L1623.88 581 L1626.38 581 L1628.88 581 L1631.38 581 L1633.89 581 L1636.39 581 L1638.89 581 L1641.39 581 L1643.89 581 L1646.39 581 L1648.89 581 L1651.39 581 L1653.9 581 L1656.4 581 L1658.9 581 L1661.4 581 L1663.9 581 L1666.4 581 L1668.9 581 L1671.41 581 L1673.91 581 L1676.41 581 L1678.91 581 L1681.41 581 L1683.91 581 L1686.41 581 L1688.91 581" fill="none" stroke="#12869b" stroke-width="2.5" stroke-linejoin="round"/>
<line x1="1577.29" y1="546.25" x2="1577.29" y2="585.25" stroke="#12869b" stroke-width="2.9" stroke-linecap="butt"/>
<line x1="1572.29" y1="546.25" x2="1582.29" y2="546.25" stroke="#12869b" stroke-width="2.9" stroke-linecap="butt"/>
<line x1="1572.29" y1="585.25" x2="1582.29" y2="585.25" stroke="#12869b" stroke-width="2.9" stroke-linecap="butt"/>
<line x1="1540.09" y1="574" x2="1540.09" y2="596.5" stroke="#12869b" stroke-width="2.9" stroke-linecap="butt"/>
<line x1="1535.09" y1="574" x2="1545.09" y2="574" stroke="#12869b" stroke-width="2.9" stroke-linecap="butt"/>
<line x1="1535.09" y1="596.5" x2="1545.09" y2="596.5" stroke="#12869b" stroke-width="2.9" stroke-linecap="butt"/>
<polygon points="1683.91,586.2 1693.91,586.2 1688.91,576.2" fill="#12869b"/>
<polygon points="1646.71,591.2 1656.71,591.2 1651.71,581.2" fill="#12869b"/>
<polygon points="1609.5,597.45 1619.5,597.45 1614.5,587.45" fill="#12869b"/>
<polygon points="1572.29,584.7 1582.29,584.7 1577.29,574.7" fill="#12869b"/>
<polygon points="1535.09,591.2 1545.09,591.2 1540.09,581.2" fill="#12869b"/>
<polygon points="1497.88,645.7 1507.88,645.7 1502.88,635.7" fill="#12869b"/>
<polygon points="1460.67,654.95 1470.67,654.95 1465.67,644.95" fill="#12869b"/>
<polygon points="1423.46,651.7 1433.46,651.7 1428.46,641.7" fill="#12869b"/>
<polygon points="1386.26,653.7 1396.26,653.7 1391.26,643.7" fill="#12869b"/>
<path d="M1391.26 649.6 L1393.76 649.59 L1396.26 649.59 L1398.76 649.59 L1401.26 649.58 L1403.76 649.58 L1406.26 649.57 L1408.77 649.57 L1411.27 649.56 L1413.77 649.56 L1416.27 649.55 L1418.77 649.54 L1421.27 649.53 L1423.77 649.51 L1426.27 649.5 L1428.78 649.48 L1431.28 649.47 L1433.78 649.45 L1436.28 649.42 L1438.78 649.39 L1441.28 649.36 L1443.78 649.33 L1446.29 649.29 L1448.79 649.24 L1451.29 649.19 L1453.79 649.13 L1456.29 649.07 L1458.79 648.99 L1461.29 648.9 L1463.79 648.81 L1466.3 648.69 L1468.8 648.57 L1471.3 648.42 L1473.8 648.26 L1476.3 648.07 L1478.8 647.86 L1481.3 647.62 L1483.81 647.35 L1486.31 647.04 L1488.81 646.69 L1491.31 646.3 L1493.81 645.85 L1496.31 645.35 L1498.81 644.78 L1501.31 644.14 L1503.82 643.41 L1506.32 642.6 L1508.82 641.69 L1511.32 640.68 L1513.82 639.54 L1516.32 638.27 L1518.82 636.87 L1521.33 635.31 L1523.83 633.6 L1526.33 631.71 L1528.83 629.65 L1531.33 627.4 L1533.83 624.97 L1536.33 622.34 L1538.83 619.53 L1541.34 616.53 L1543.84 613.37 L1546.34 610.04 L1548.84 606.57 L1551.34 602.99 L1553.84 599.31 L1556.34 595.57 L1558.85 591.79 L1561.35 588.01 L1563.85 584.26 L1566.35 580.56 L1568.85 576.96 L1571.35 573.48 L1573.85 570.13 L1576.35 566.94 L1578.86 563.92 L1581.36 561.08 L1583.86 558.43 L1586.36 555.96 L1588.86 553.69 L1591.36 551.6 L1593.86 549.69 L1596.37 547.95 L1598.87 546.37 L1601.37 544.95 L1603.87 543.66 L1606.37 542.51 L1608.87 541.47 L1611.37 540.55 L1613.87 539.72 L1616.38 538.99 L1618.88 538.34 L1621.38 537.76 L1623.88 537.24 L1626.38 536.79 L1628.88 536.39 L1631.38 536.03 L1633.89 535.72 L1636.39 535.44 L1638.89 535.2 L1641.39 534.98 L1643.89 534.79 L1646.39 534.62 L1648.89 534.48 L1651.39 534.35 L1653.9 534.23 L1656.4 534.13 L1658.9 534.05 L1661.4 533.97 L1663.9 533.9 L1666.4 533.84 L1668.9 533.79 L1671.41 533.74 L1673.91 533.7 L1676.41 533.67 L1678.91 533.63 L1681.41 533.61 L1683.91 533.58 L1686.41 533.56 L1688.91 533.54" fill="none" stroke="#0000ff" stroke-width="2.5" stroke-linejoin="round"/>
<line x1="1688.91" y1="510" x2="1688.91" y2="545.5" stroke="#0000ff" stroke-width="2.9" stroke-linecap="butt"/>
<line x1="1683.91" y1="510" x2="1693.91" y2="510" stroke="#0000ff" stroke-width="2.9" stroke-linecap="butt"/>
<line x1="1683.91" y1="545.5" x2="1693.91" y2="545.5" stroke="#0000ff" stroke-width="2.9" stroke-linecap="butt"/>
<line x1="1651.71" y1="507.5" x2="1651.71" y2="550" stroke="#0000ff" stroke-width="2.9" stroke-linecap="butt"/>
<line x1="1646.71" y1="507.5" x2="1656.71" y2="507.5" stroke="#0000ff" stroke-width="2.9" stroke-linecap="butt"/>
<line x1="1646.71" y1="550" x2="1656.71" y2="550" stroke="#0000ff" stroke-width="2.9" stroke-linecap="butt"/>
<line x1="1577.29" y1="541.75" x2="1577.29" y2="570" stroke="#0000ff" stroke-width="2.9" stroke-linecap="butt"/>
<line x1="1572.29" y1="541.75" x2="1582.29" y2="541.75" stroke="#0000ff" stroke-width="2.9" stroke-linecap="butt"/>
<line x1="1572.29" y1="570" x2="1582.29" y2="570" stroke="#0000ff" stroke-width="2.9" stroke-linecap="butt"/>
<line x1="1428.46" y1="649" x2="1428.46" y2="658" stroke="#0000ff" stroke-width="2.9" stroke-linecap="butt"/>
<line x1="1423.46" y1="649" x2="1433.46" y2="649" stroke="#0000ff" stroke-width="2.9" stroke-linecap="butt"/>
<line x1="1423.46" y1="658" x2="1433.46" y2="658" stroke="#0000ff" stroke-width="2.9" stroke-linecap="butt"/>
<polygon points="1683.91,523.5 1693.91,523.5 1688.91,533.5" fill="#0000ff"/>
<polygon points="1646.71,523.5 1656.71,523.5 1651.71,533.5" fill="#0000ff"/>
<polygon points="1609.5,548 1619.5,548 1614.5,558" fill="#0000ff"/>
<polygon points="1572.29,552 1582.29,552 1577.29,562" fill="#0000ff"/>
<polygon points="1535.09,615.75 1545.09,615.75 1540.09,625.75" fill="#0000ff"/>
<polygon points="1497.88,637.5 1507.88,637.5 1502.88,647.5" fill="#0000ff"/>
<polygon points="1460.67,642 1470.67,642 1465.67,652" fill="#0000ff"/>
<polygon points="1423.46,649.5 1433.46,649.5 1428.46,659.5" fill="#0000ff"/>
<polygon points="1386.26,644.5 1396.26,644.5 1391.26,654.5" fill="#0000ff"/>
<path d="M1391.26 639.89 L1393.76 639.87 L1396.26 639.86 L1398.76 639.84 L1401.26 639.82 L1403.76 639.8 L1406.26 639.77 L1408.77 639.75 L1411.27 639.72 L1413.77 639.69 L1416.27 639.65 L1418.77 639.61 L1421.27 639.57 L1423.77 639.53 L1426.27 639.48 L1428.78 639.42 L1431.28 639.36 L1433.78 639.3 L1436.28 639.23 L1438.78 639.15 L1441.28 639.07 L1443.78 638.98 L1446.29 638.88 L1448.79 638.77 L1451.29 638.65 L1453.79 638.52 L1456.29 638.37 L1458.79 638.22 L1461.29 638.05 L1463.79 637.86 L1466.3 637.66 L1468.8 637.44 L1471.3 637.2 L1473.8 636.94 L1476.3 636.65 L1478.8 636.34 L1481.3 636 L1483.81 635.64 L1486.31 635.24 L1488.81 634.81 L1491.31 634.34 L1493.81 633.83 L1496.31 633.28 L1498.81 632.68 L1501.31 632.03 L1503.82 631.34 L1506.32 630.58 L1508.82 629.77 L1511.32 628.9 L1513.82 627.95 L1516.32 626.94 L1518.82 625.86 L1521.33 624.69 L1523.83 623.45 L1526.33 622.12 L1528.83 620.71 L1531.33 619.2 L1533.83 617.6 L1536.33 615.91 L1538.83 614.12 L1541.34 612.22 L1543.84 610.24 L1546.34 608.15 L1548.84 605.96 L1551.34 603.68 L1553.84 601.3 L1556.34 598.83 L1558.85 596.27 L1561.35 593.64 L1563.85 590.92 L1566.35 588.14 L1568.85 585.29 L1571.35 582.4 L1573.85 579.45 L1576.35 576.48 L1578.86 573.47 L1581.36 570.46 L1583.86 567.43 L1586.36 564.42 L1588.86 561.42 L1591.36 558.45 L1593.86 555.51 L1596.37 552.61 L1598.87 549.77 L1601.37 546.99 L1603.87 544.28 L1606.37 541.64 L1608.87 539.08 L1611.37 536.61 L1613.87 534.22 L1616.38 531.92 L1618.88 529.72 L1621.38 527.61 L1623.88 525.59 L1626.38 523.67 L1628.88 521.84 L1631.38 520.11 L1633.89 518.46 L1636.39 516.91 L1638.89 515.44 L1641.39 514.05 L1643.89 512.75 L1646.39 511.52 L1648.89 510.37 L1651.39 509.29 L1653.9 508.28 L1656.4 507.33 L1658.9 506.44 L1661.4 505.62 L1663.9 504.84 L1666.4 504.13 L1668.9 503.45 L1671.41 502.83 L1673.91 502.25 L1676.41 501.71 L1678.91 501.21 L1681.41 500.74 L1683.91 500.31 L1686.41 499.91 L1688.91 499.54" fill="none" stroke="#990000" stroke-width="2.5" stroke-linejoin="round"/>
<line x1="1651.71" y1="495" x2="1651.71" y2="512.5" stroke="#990000" stroke-width="2.9" stroke-linecap="butt"/>
<line x1="1646.71" y1="495" x2="1656.71" y2="495" stroke="#990000" stroke-width="2.9" stroke-linecap="butt"/>
<line x1="1646.71" y1="512.5" x2="1656.71" y2="512.5" stroke="#990000" stroke-width="2.9" stroke-linecap="butt"/>
<line x1="1502.88" y1="623.5" x2="1502.88" y2="637" stroke="#990000" stroke-width="2.9" stroke-linecap="butt"/>
<line x1="1497.88" y1="623.5" x2="1507.88" y2="623.5" stroke="#990000" stroke-width="2.9" stroke-linecap="butt"/>
<line x1="1497.88" y1="637" x2="1507.88" y2="637" stroke="#990000" stroke-width="2.9" stroke-linecap="butt"/>
<line x1="1540.09" y1="609" x2="1540.09" y2="621" stroke="#990000" stroke-width="2.9" stroke-linecap="butt"/>
<line x1="1535.09" y1="609" x2="1545.09" y2="609" stroke="#990000" stroke-width="2.9" stroke-linecap="butt"/>
<line x1="1535.09" y1="621" x2="1545.09" y2="621" stroke="#990000" stroke-width="2.9" stroke-linecap="butt"/>
<line x1="1577.29" y1="563" x2="1577.29" y2="582" stroke="#990000" stroke-width="2.9" stroke-linecap="butt"/>
<line x1="1572.29" y1="563" x2="1582.29" y2="563" stroke="#990000" stroke-width="2.9" stroke-linecap="butt"/>
<line x1="1572.29" y1="582" x2="1582.29" y2="582" stroke="#990000" stroke-width="2.9" stroke-linecap="butt"/>
<rect x="1684.01" y="495.6" width="9.8" height="9.8" fill="#990000"/>
<rect x="1646.81" y="498.85" width="9.8" height="9.8" fill="#990000"/>
<rect x="1609.6" y="528.85" width="9.8" height="9.8" fill="#990000"/>
<rect x="1572.39" y="567.85" width="9.8" height="9.8" fill="#990000"/>
<rect x="1535.19" y="610.35" width="9.8" height="9.8" fill="#990000"/>
<rect x="1497.98" y="624.6" width="9.8" height="9.8" fill="#990000"/>
<rect x="1460.77" y="632.1" width="9.8" height="9.8" fill="#990000"/>
<rect x="1423.56" y="634.6" width="9.8" height="9.8" fill="#990000"/>
<rect x="1386.36" y="636.1" width="9.8" height="9.8" fill="#990000"/>
<line x1="1739.3" y1="282.5" x2="1786" y2="282.5" stroke="#990000" stroke-width="4.5" stroke-linecap="butt"/>
<rect x="1753.9" y="273.6" width="17.8" height="17.8" fill="#990000"/>
<line x1="1739.3" y1="322" x2="1786" y2="322" stroke="#12869b" stroke-width="4.5" stroke-linecap="butt"/>
<polygon points="1753.9,330.7 1771.7,330.7 1762.8,312.9" fill="#12869b"/>
<line x1="1739.3" y1="372.8" x2="1786" y2="372.8" stroke="#0000ff" stroke-width="4.5" stroke-linecap="butt"/>
<polygon points="1753.9,364.1 1771.7,364.1 1762.8,381.9" fill="#0000ff"/>
<line x1="1739.3" y1="421.7" x2="1786" y2="421.7" stroke="#000000" stroke-width="4.5" stroke-linecap="butt"/>
<polygon points="1754.79,421.7 1762.8,412.53 1770.81,421.7 1762.8,430.87" fill="#000000"/>
<line x1="1739.3" y1="477" x2="1786" y2="477" stroke="#ff8000" stroke-width="4.5" stroke-linecap="butt"/>
<polygon points="1754.59,477 1758.53,469.4 1767.07,469.4 1771.01,477 1767.07,484.6 1758.53,484.6" fill="#ff8000"/>
<text x="1812.7" y="289.7" font-size="20.8" textLength="62.83" lengthAdjust="spacing">NRG-1</text>
<text x="1812.3" y="328.9" font-size="20.8" textLength="45.79" lengthAdjust="spacing">JK07</text>
<text x="1812.7" y="368.1" font-size="20.8" textLength="184.25" lengthAdjust="spacing">GP120 mAB/NRG-1</text>
<text x="1812.7" y="391.7" font-size="20.8" textLength="60.93" lengthAdjust="spacing">Fusion</text>
<text x="1812.7" y="428.8" font-size="20.8" textLength="115.36" lengthAdjust="spacing">GP120 mAB</text>
<text x="1812.7" y="472.8" font-size="20.8" textLength="157.1" lengthAdjust="spacing">HER3 antagonist</text>
<text x="1812.7" y="495.4" font-size="20.8" textLength="77.02" lengthAdjust="spacing">antibody</text>
</svg>
</body></html>
